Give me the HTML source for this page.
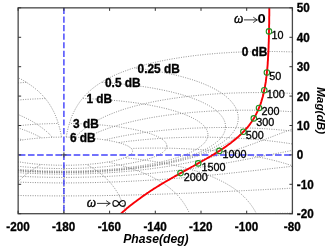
<!DOCTYPE html>
<html><head><meta charset="utf-8"><title>Nichols chart</title>
<style>html,body{margin:0;padding:0;background:#fff}body{width:328px;height:249px;overflow:hidden;position:relative;font-family:"Liberation Sans",sans-serif}</style>
</head><body>
<svg width="328" height="249" viewBox="0 0 328 249" style="position:absolute;left:0;top:0;will-change:transform;font-family:'Liberation Sans',sans-serif"><defs><clipPath id="c"><rect x="18.15" y="7.85" width="274.25" height="205.85"/></clipPath></defs><rect x="0" y="0" width="328" height="249" fill="#fff"/><g clip-path="url(#c)"><g fill="none" stroke="#808080" stroke-width="0.9" stroke-dasharray="1 1.4"><path d="M66.2 137.1L67.0 137.1L67.8 137.1L68.6 137.2L69.4 137.2L70.3 137.2L71.1 137.2L72.0 137.2L72.9 137.2L73.8 137.3L74.7 137.3L75.6 137.3L76.5 137.4L77.4 137.4L78.3 137.4L79.2 137.5L80.2 137.5L81.0 137.6L81.9 137.6L82.9 137.7L83.8 137.7L84.8 137.8L85.9 137.9L86.7 137.9L87.6 138.0L88.4 138.0L89.4 138.1L90.3 138.2L91.2 138.3L92.2 138.4L93.2 138.5L94.3 138.6L95.4 138.7L96.5 138.8L97.6 138.9L98.7 139.1L99.9 139.2L100.7 139.3L101.5 139.4L102.3 139.5L103.1 139.6L104.0 139.8L104.8 139.9L105.7 140.0L106.5 140.2L107.4 140.3L108.2 140.4L109.1 140.6L110.0 140.8L110.9 140.9L111.8 141.1L112.6 141.3L113.5 141.5L114.4 141.6L115.3 141.8L116.1 142.1L117.0 142.3L117.9 142.5L118.7 142.7L119.6 142.9L120.4 143.2L121.2 143.4L122.0 143.7L122.8 144.0L123.6 144.2L124.3 144.5L125.4 144.9L126.5 145.4L127.5 145.8L128.4 146.3L129.2 146.8L130.0 147.3L130.6 147.9L131.4 148.6L132.0 149.3L132.4 150.1L132.6 150.9L132.6 151.1" stroke-dashoffset="0.00"/><path d="M63.9 165.3L65.6 165.3L67.4 165.2L69.1 165.2L70.8 165.2L72.5 165.2L74.2 165.1L75.8 165.0L77.4 165.0L79.0 164.9L80.5 164.8L82.1 164.8L83.6 164.7L85.0 164.6L86.5 164.5L87.9 164.4L89.3 164.3L90.7 164.1L92.1 164.0L93.4 163.9L94.7 163.8L96.0 163.6L97.2 163.5L98.5 163.4L99.7 163.2L100.9 163.1L102.0 162.9L103.2 162.7L104.3 162.6L105.3 162.4L106.4 162.2L107.4 162.1L108.5 161.9L109.4 161.7L110.4 161.5L111.4 161.4L112.3 161.2L113.2 161.0L114.1 160.8L114.9 160.6L115.7 160.4L116.5 160.2L117.3 160.0L118.8 159.6L120.3 159.2L121.6 158.8L122.8 158.4L124.0 158.0L125.1 157.6L126.1 157.2L127.0 156.7L127.9 156.3L128.6 155.9L129.3 155.5L130.3 154.8L131.0 154.2L131.6 153.6L132.2 152.7L132.5 151.9L132.6 151.1" stroke-dashoffset="0.11"/><path d="M3.4 144.5L4.1 144.2L4.9 144.0L5.7 143.7L6.5 143.4L7.3 143.2L8.1 142.9L9.0 142.7L9.8 142.5L10.7 142.3L11.6 142.1L12.4 141.8L13.3 141.6L14.2 141.5L15.1 141.3L16.0 141.1L16.8 140.9L17.7 140.8L18.6 140.6L19.5 140.4L20.3 140.3L21.2 140.2L22.1 140.0L22.9 139.9L23.7 139.8L24.6 139.6L25.4 139.5L26.2 139.4L27.0 139.3L27.8 139.2L29.0 139.1L30.1 138.9L31.3 138.8L32.4 138.7L33.4 138.6L34.5 138.5L35.5 138.4L36.5 138.3L37.4 138.2L38.4 138.1L39.3 138.0L40.1 138.0L41.0 137.9L41.8 137.9L42.9 137.8L43.9 137.7L44.9 137.7L45.8 137.6L46.7 137.6L47.5 137.5L48.3 137.5L49.3 137.4L50.2 137.4L51.0 137.4L52.0 137.3L52.8 137.3L53.7 137.3L54.5 137.2L55.3 137.2L56.2 137.2L57.0 137.2L57.9 137.2L58.7 137.2L59.6 137.1L60.4 137.1L61.2 137.1L61.6 137.1" stroke-dashoffset="2.02"/><path d="M3.2 157.8L4.3 158.2L5.5 158.6L6.8 159.0L8.2 159.4L9.6 159.8L11.2 160.2L12.0 160.4L12.8 160.6L13.7 160.8L14.5 161.0L15.4 161.2L16.4 161.4L17.3 161.5L18.3 161.7L19.3 161.9L20.3 162.1L21.3 162.2L22.4 162.4L23.5 162.6L24.6 162.7L25.7 162.9L26.9 163.1L28.0 163.2L29.2 163.4L30.5 163.5L31.7 163.6L33.0 163.8L34.3 163.9L35.6 164.0L37.0 164.1L38.4 164.3L39.8 164.4L41.2 164.5L42.7 164.6L44.2 164.7L45.7 164.8L47.2 164.8L48.7 164.9L50.3 165.0L51.9 165.0L53.6 165.1L55.2 165.2L56.9 165.2L58.6 165.2L60.3 165.2L62.1 165.3L63.9 165.3" stroke-dashoffset="1.81"/><path d="M69.4 123.5L70.2 123.5L71.1 123.5L72.0 123.5L72.9 123.5L73.8 123.6L74.7 123.6L75.6 123.6L76.5 123.6L77.4 123.6L78.3 123.7L79.2 123.7L80.0 123.7L80.9 123.8L81.8 123.8L82.7 123.8L83.7 123.9L84.7 123.9L85.5 123.9L86.4 124.0L87.2 124.0L88.1 124.1L89.0 124.1L90.0 124.2L91.0 124.2L92.0 124.3L93.1 124.4L94.2 124.4L95.3 124.5L96.5 124.6L97.7 124.7L98.5 124.7L99.3 124.8L100.2 124.9L101.1 125.0L101.9 125.0L102.8 125.1L103.8 125.2L104.7 125.3L105.7 125.4L106.6 125.5L107.6 125.6L108.6 125.7L109.6 125.8L110.7 125.9L111.7 126.0L112.8 126.1L113.9 126.3L114.9 126.4L116.1 126.5L117.2 126.7L118.3 126.8L119.4 127.0L120.6 127.1L121.8 127.3L122.9 127.5L124.1 127.7L125.3 127.9L126.5 128.1L127.7 128.3L128.9 128.5L130.2 128.7L131.4 128.9L132.6 129.2L133.8 129.4L135.0 129.7L136.2 129.9L137.5 130.2L138.7 130.5L139.9 130.7L141.1 131.0L142.3 131.3L143.4 131.6L144.6 132.0L145.8 132.3L146.9 132.6L148.0 133.0L149.1 133.3L150.2 133.7L151.3 134.0L152.3 134.4L153.3 134.8L154.3 135.2L155.3 135.6L156.2 136.0L157.1 136.4L158.0 136.8L158.8 137.2L159.6 137.7L160.4 138.1L161.1 138.5L161.8 139.0L162.8 139.7L163.7 140.4L164.4 141.1L165.1 141.8L165.7 142.6L166.1 143.3L166.5 144.1L166.7 144.9L166.9 145.9" stroke-dashoffset="0.84"/><path d="M63.9 168.6L66.1 168.6L68.2 168.5L70.4 168.5L72.5 168.5L74.6 168.4L76.7 168.4L78.7 168.3L80.7 168.3L82.7 168.2L84.6 168.1L86.5 168.0L88.4 167.9L90.3 167.8L92.1 167.7L93.9 167.6L95.7 167.5L97.5 167.3L99.2 167.2L100.9 167.1L102.6 166.9L104.2 166.8L105.9 166.6L107.5 166.5L109.0 166.3L110.6 166.1L112.1 166.0L113.6 165.8L115.1 165.6L116.5 165.4L117.9 165.2L119.3 165.0L120.7 164.8L122.0 164.6L123.4 164.4L124.7 164.2L126.0 164.0L127.2 163.8L128.4 163.6L129.7 163.4L130.8 163.2L132.0 163.0L133.1 162.7L134.3 162.5L135.4 162.3L136.4 162.0L137.5 161.8L138.5 161.6L139.5 161.3L140.5 161.1L141.5 160.9L142.5 160.6L143.4 160.4L144.3 160.1L145.2 159.9L146.1 159.6L146.9 159.4L147.7 159.1L148.5 158.9L149.3 158.6L150.1 158.4L151.6 157.9L153.0 157.4L154.3 156.8L155.6 156.3L156.8 155.8L157.9 155.3L158.9 154.7L159.9 154.2L160.8 153.6L161.7 153.1L162.4 152.6L163.1 152.0L163.8 151.5L164.6 150.7L165.3 149.9L165.9 149.1L166.3 148.3L166.6 147.5L166.8 146.7L166.9 145.9" stroke-dashoffset="0.11"/><path d="M3.6 127.7L4.8 127.5L5.9 127.3L7.1 127.1L8.3 127.0L9.4 126.8L10.5 126.7L11.7 126.5L12.8 126.4L13.9 126.3L14.9 126.1L16.0 126.0L17.1 125.9L18.1 125.8L19.1 125.7L20.1 125.6L21.1 125.5L22.1 125.4L23.0 125.3L24.0 125.2L24.9 125.1L25.8 125.0L26.7 125.0L27.5 124.9L28.4 124.8L29.2 124.7L30.0 124.7L30.9 124.6L32.0 124.5L33.2 124.5L34.3 124.4L35.3 124.3L36.4 124.3L37.4 124.2L38.4 124.1L39.3 124.1L40.2 124.0L41.1 124.0L41.9 124.0L42.7 123.9L43.8 123.9L44.8 123.8L45.7 123.8L46.6 123.8L47.5 123.7L48.3 123.7L49.3 123.7L50.2 123.6L51.0 123.6L51.8 123.6L52.7 123.6L53.5 123.6L54.4 123.5L55.3 123.5L56.1 123.5L57.0 123.5L57.8 123.5L58.3 123.5" stroke-dashoffset="2.24"/><path d="M4.3 164.4L5.7 164.6L7.0 164.8L8.4 165.0L9.8 165.2L11.2 165.4L12.7 165.6L14.1 165.8L15.6 166.0L17.1 166.1L18.7 166.3L20.3 166.5L21.9 166.6L23.5 166.8L25.1 166.9L26.8 167.1L28.5 167.2L30.2 167.3L32.0 167.5L33.8 167.6L35.6 167.7L37.4 167.8L39.3 167.9L41.2 168.0L43.1 168.1L45.0 168.2L47.0 168.3L49.0 168.3L51.1 168.4L53.1 168.4L55.2 168.5L57.3 168.5L59.5 168.5L61.7 168.6L63.9 168.6" stroke-dashoffset="0.60"/><path d="M82.4 98.5L83.4 98.5L84.4 98.6L85.2 98.6L86.1 98.6L86.9 98.7L87.8 98.7L88.8 98.7L89.7 98.8L90.7 98.8L91.8 98.9L92.8 98.9L93.9 99.0L95.1 99.0L96.3 99.1L97.1 99.1L97.9 99.2L98.7 99.2L99.6 99.3L100.5 99.4L101.4 99.4L102.3 99.5L103.3 99.5L104.2 99.6L105.2 99.7L106.2 99.8L107.2 99.8L108.3 99.9L109.3 100.0L110.4 100.1L111.5 100.2L112.7 100.3L113.8 100.4L115.0 100.5L116.1 100.6L117.3 100.7L118.6 100.8L119.8 100.9L121.1 101.1L122.3 101.2L123.6 101.4L125.0 101.5L126.3 101.7L127.6 101.8L129.0 102.0L130.4 102.2L131.8 102.3L133.2 102.5L134.6 102.7L136.1 102.9L137.5 103.1L139.0 103.3L140.5 103.6L141.9 103.8L143.4 104.0L144.9 104.3L146.4 104.5L148.0 104.8L149.5 105.1L151.0 105.4L152.5 105.7L154.0 106.0L155.6 106.3L157.1 106.6L158.6 106.9L160.1 107.2L161.6 107.6L163.1 107.9L164.6 108.3L166.1 108.6L167.5 109.0L169.0 109.4L170.5 109.8L171.9 110.2L173.3 110.6L174.7 111.0L176.1 111.4L177.4 111.9L178.8 112.3L180.1 112.8L181.4 113.2L182.7 113.7L183.9 114.1L185.1 114.6L186.3 115.1L187.5 115.6L188.7 116.1L189.8 116.6L190.9 117.1L191.9 117.6L192.9 118.1L193.9 118.7L194.9 119.2L195.8 119.7L196.7 120.3L197.6 120.8L198.5 121.4L199.3 121.9L200.0 122.5L200.8 123.0L201.5 123.6L202.1 124.2L202.8 124.8L203.4 125.3L203.9 125.9L204.7 126.8L205.4 127.7L206.0 128.6L206.5 129.5L207.0 130.4L207.3 131.3L207.6 132.2L207.8 133.1L207.9 134.0L207.9 134.6" stroke-dashoffset="1.89"/><path d="M63.9 171.2L66.4 171.2L68.8 171.1L71.3 171.1L73.7 171.1L76.1 171.0L78.4 171.0L80.7 170.9L83.0 170.9L85.3 170.8L87.5 170.7L89.7 170.6L91.9 170.5L94.0 170.4L96.1 170.3L98.2 170.2L100.2 170.0L102.3 169.9L104.3 169.8L106.2 169.6L108.2 169.5L110.1 169.3L112.0 169.2L113.8 169.0L115.7 168.8L117.5 168.7L119.3 168.5L121.0 168.3L122.8 168.1L124.5 167.9L126.2 167.7L127.8 167.5L129.5 167.3L131.1 167.1L132.7 166.9L134.2 166.7L135.8 166.5L137.3 166.3L138.8 166.1L140.3 165.8L141.8 165.6L143.2 165.4L144.6 165.1L146.0 164.9L147.4 164.7L148.7 164.4L150.1 164.2L151.4 163.9L152.7 163.7L154.0 163.4L155.2 163.2L156.5 162.9L157.7 162.7L158.9 162.4L160.1 162.2L161.2 161.9L162.4 161.6L163.5 161.4L164.6 161.1L165.7 160.8L166.8 160.6L167.8 160.3L168.9 160.0L169.9 159.7L170.9 159.5L171.9 159.2L172.8 158.9L173.8 158.6L174.7 158.3L175.7 158.1L176.6 157.8L177.5 157.5L178.3 157.2L179.2 156.9L180.0 156.6L180.9 156.3L181.7 156.1L182.5 155.8L183.3 155.5L184.1 155.2L184.8 154.9L186.3 154.3L187.7 153.7L189.1 153.1L190.4 152.5L191.6 151.9L192.8 151.3L194.0 150.7L195.1 150.1L196.1 149.5L197.1 148.9L198.1 148.3L199.0 147.6L199.8 147.0L200.7 146.4L201.4 145.8L202.1 145.2L202.8 144.6L203.5 143.9L204.0 143.3L204.6 142.7L205.3 141.8L206.0 140.8L206.5 139.9L207.0 139.0L207.3 138.0L207.6 137.1L207.8 136.2L207.9 135.3L207.9 134.6" stroke-dashoffset="0.11"/><path d="M3.4 101.4L4.7 101.3L6.0 101.1L7.3 101.0L8.5 100.9L9.8 100.8L11.0 100.6L12.2 100.5L13.3 100.4L14.5 100.3L15.6 100.2L16.7 100.1L17.8 100.0L18.9 100.0L20.0 99.9L21.0 99.8L22.0 99.7L23.0 99.6L24.0 99.6L24.9 99.5L25.9 99.4L26.8 99.4L27.7 99.3L28.5 99.3L29.4 99.2L30.2 99.2L31.1 99.1L31.9 99.1L33.0 99.0L34.2 99.0L35.3 98.9L36.3 98.9L37.3 98.8L38.3 98.8L39.3 98.7L40.2 98.7L41.1 98.7L41.9 98.6L42.7 98.6L43.8 98.6L44.8 98.5L45.3 98.5" stroke-dashoffset="2.07"/><path d="M3.2 167.9L5.0 168.1L6.7 168.3L8.5 168.5L10.2 168.7L12.1 168.8L13.9 169.0L15.7 169.2L17.6 169.3L19.6 169.5L21.5 169.6L23.5 169.8L25.5 169.9L27.5 170.0L29.5 170.2L31.6 170.3L33.7 170.4L35.9 170.5L38.0 170.6L40.2 170.7L42.4 170.8L44.7 170.9L47.0 170.9L49.3 171.0L51.6 171.0L54.0 171.1L56.4 171.1L58.9 171.1L61.4 171.2L63.9 171.2" stroke-dashoffset="1.90"/><path d="M101.3 82.4L102.2 82.4L103.1 82.5L104.1 82.5L105.1 82.6L106.1 82.7L107.1 82.7L108.2 82.8L109.3 82.9L110.3 83.0L111.5 83.1L112.6 83.2L113.7 83.3L114.9 83.4L116.1 83.5L117.3 83.6L118.6 83.7L119.8 83.8L121.1 83.9L122.4 84.1L123.7 84.2L125.1 84.3L126.4 84.5L127.8 84.6L129.2 84.8L130.6 84.9L132.1 85.1L133.5 85.3L135.0 85.5L136.5 85.7L138.0 85.9L139.5 86.1L141.0 86.3L142.5 86.5L144.1 86.7L145.6 87.0L147.2 87.2L148.8 87.5L149.6 87.6L150.4 87.7L151.2 87.9L152.0 88.0L152.8 88.1L153.6 88.3L154.4 88.4L155.2 88.6L156.0 88.7L156.8 88.9L157.6 89.0L158.4 89.2L159.2 89.3L160.0 89.5L160.8 89.6L161.6 89.8L162.4 90.0L163.2 90.1L164.0 90.3L164.8 90.5L165.6 90.6L166.4 90.8L167.2 91.0L168.0 91.2L168.8 91.4L169.6 91.5L170.4 91.7L171.2 91.9L172.0 92.1L172.8 92.3L173.5 92.5L174.3 92.7L175.1 92.9L175.9 93.1L177.4 93.5L178.9 93.9L180.5 94.3L182.0 94.7L183.4 95.2L184.9 95.6L186.3 96.1L187.8 96.5L189.2 97.0L190.6 97.5L191.9 98.0L193.3 98.5L194.6 99.0L195.9 99.5L197.1 100.0L198.4 100.5L199.6 101.0L200.8 101.5L202.0 102.1L203.1 102.6L204.2 103.1L205.3 103.7L206.4 104.2L207.4 104.8L208.4 105.3L209.4 105.9L210.3 106.5L211.3 107.1L212.2 107.6L213.0 108.2L213.9 108.8L214.7 109.4L215.4 110.0L216.2 110.6L216.9 111.2L217.6 111.8L218.2 112.4L218.9 113.0L219.5 113.6L220.1 114.2L220.6 114.8L221.1 115.4L221.8 116.4L222.5 117.3L223.1 118.2L223.6 119.2L224.1 120.1L224.5 121.1L224.8 122.0L225.1 123.0L225.3 123.9L225.4 124.9L225.5 125.8L225.5 126.5" stroke-dashoffset="1.52"/><path d="M63.9 171.9L66.4 171.9L69.0 171.8L71.5 171.8L74.0 171.8L76.4 171.7L78.9 171.7L81.3 171.6L83.6 171.6L85.9 171.5L88.2 171.4L90.5 171.3L92.7 171.2L94.9 171.1L97.1 171.0L99.3 170.9L101.4 170.7L103.5 170.6L105.5 170.5L107.6 170.3L109.6 170.2L111.6 170.0L113.5 169.9L115.4 169.7L117.4 169.5L119.2 169.4L121.1 169.2L122.9 169.0L124.7 168.8L126.5 168.6L128.2 168.4L130.0 168.2L131.7 168.0L133.4 167.8L135.0 167.6L136.7 167.4L138.3 167.2L139.9 167.0L141.5 166.7L143.0 166.5L144.5 166.3L146.1 166.1L147.5 165.8L149.0 165.6L150.5 165.3L151.9 165.1L153.3 164.9L154.7 164.6L156.0 164.4L157.4 164.1L158.7 163.9L160.0 163.6L161.3 163.4L162.6 163.1L163.9 162.8L165.1 162.6L166.3 162.3L167.5 162.0L168.7 161.8L169.9 161.5L171.0 161.2L172.2 161.0L173.3 160.7L174.4 160.4L175.5 160.1L176.6 159.8L177.6 159.6L178.7 159.3L179.7 159.0L180.7 158.7L181.7 158.4L182.7 158.1L183.6 157.9L184.6 157.6L185.5 157.3L186.4 157.0L187.4 156.7L188.3 156.4L189.1 156.1L190.0 155.8L190.9 155.5L191.7 155.2L192.5 154.9L193.3 154.6L194.1 154.3L194.9 154.0L195.7 153.7L196.5 153.4L197.2 153.1L198.7 152.5L200.1 151.9L201.5 151.3L202.8 150.7L204.1 150.0L205.3 149.4L206.5 148.8L207.7 148.2L208.8 147.6L209.8 146.9L210.9 146.3L211.8 145.7L212.8 145.0L213.7 144.4L214.6 143.8L215.4 143.1L216.2 142.5L217.0 141.9L217.7 141.2L218.4 140.6L219.0 139.9L219.7 139.3L220.3 138.7L220.8 138.0L221.3 137.4L221.8 136.7L222.5 135.8L223.1 134.8L223.7 133.8L224.1 132.9L224.5 131.9L224.9 131.0L225.1 130.0L225.3 129.0L225.5 128.1L225.5 127.1L225.5 126.5" stroke-dashoffset="0.11"/><path d="M3.3 84.3L4.6 84.1L6.0 84.0L7.2 83.9L8.5 83.7L9.8 83.6L11.0 83.5L12.2 83.4L13.4 83.3L14.5 83.2L15.7 83.1L16.8 83.0L17.9 82.9L19.0 82.9L20.1 82.8L21.1 82.7L22.1 82.6L23.1 82.6L24.1 82.5L25.0 82.4L26.0 82.4L26.4 82.4" stroke-dashoffset="1.96"/><path d="M4.8 169.0L6.6 169.2L8.5 169.4L10.4 169.5L12.3 169.7L14.2 169.9L16.2 170.0L18.1 170.2L20.1 170.3L22.2 170.5L24.2 170.6L26.3 170.7L28.5 170.9L30.6 171.0L32.8 171.1L35.0 171.2L37.2 171.3L39.5 171.4L41.8 171.5L44.1 171.6L46.5 171.6L48.9 171.7L51.3 171.7L53.7 171.8L56.2 171.8L58.7 171.8L61.3 171.9L63.9 171.9" stroke-dashoffset="1.06"/><path d="M134.1 67.9L135.6 68.1L137.1 68.3L138.6 68.5L140.2 68.7L141.7 68.9L143.3 69.1L144.9 69.3L145.7 69.4L146.5 69.6L147.3 69.7L148.1 69.8L148.9 69.9L149.7 70.0L150.5 70.2L151.3 70.3L152.1 70.4L152.9 70.6L153.7 70.7L154.6 70.8L155.4 71.0L156.2 71.1L157.0 71.3L157.8 71.4L158.7 71.6L159.5 71.7L160.3 71.9L161.2 72.0L162.0 72.2L162.8 72.3L163.6 72.5L164.5 72.7L165.3 72.8L166.1 73.0L166.9 73.2L167.8 73.4L168.6 73.5L169.4 73.7L170.2 73.9L171.1 74.1L171.9 74.2L172.7 74.4L173.5 74.6L174.3 74.8L175.2 75.0L176.0 75.2L176.8 75.4L177.6 75.6L178.4 75.8L179.2 76.0L180.0 76.2L180.8 76.4L181.6 76.6L182.4 76.8L183.1 77.0L183.9 77.3L184.7 77.5L185.5 77.7L186.3 77.9L187.8 78.4L189.3 78.8L190.8 79.3L192.3 79.7L193.7 80.2L195.2 80.7L196.6 81.2L198.0 81.7L199.4 82.2L200.7 82.7L202.0 83.2L203.4 83.7L204.6 84.3L205.9 84.8L207.1 85.3L208.4 85.9L209.5 86.4L210.7 87.0L211.8 87.5L213.0 88.1L214.1 88.7L215.1 89.2L216.2 89.8L217.2 90.4L218.2 91.0L219.1 91.6L220.1 92.1L221.0 92.7L221.9 93.3L222.7 93.9L223.6 94.5L224.4 95.1L225.2 95.8L225.9 96.4L226.7 97.0L227.4 97.6L228.1 98.2L228.7 98.8L229.4 99.5L230.0 100.1L230.6 100.7L231.1 101.3L231.7 102.0L232.2 102.6L232.7 103.2L233.4 104.2L234.1 105.1L234.7 106.1L235.3 107.1L235.8 108.0L236.2 109.0L236.7 109.9L237.0 110.9L237.3 111.9L237.6 112.9L237.8 113.8L238.0 114.8L238.2 115.8L238.2 116.8L238.3 117.7L238.3 118.1" stroke-dashoffset="0.75"/><path d="M63.9 172.2L66.5 172.2L69.1 172.2L71.6 172.2L74.1 172.1L76.6 172.1L79.1 172.0L81.5 172.0L83.9 171.9L86.3 171.8L88.6 171.8L90.9 171.7L93.2 171.6L95.4 171.5L97.6 171.3L99.8 171.2L102.0 171.1L104.1 171.0L106.2 170.8L108.2 170.7L110.3 170.5L112.3 170.4L114.3 170.2L116.3 170.1L118.2 169.9L120.1 169.7L122.0 169.5L123.9 169.4L125.7 169.2L127.5 169.0L129.3 168.8L131.1 168.6L132.8 168.4L134.5 168.2L136.2 168.0L137.9 167.8L139.5 167.5L141.2 167.3L142.8 167.1L144.4 166.9L145.9 166.6L147.5 166.4L149.0 166.2L150.5 165.9L152.0 165.7L153.5 165.5L154.9 165.2L156.3 165.0L157.7 164.7L159.1 164.5L160.5 164.2L161.8 164.0L163.2 163.7L164.5 163.4L165.8 163.2L167.1 162.9L168.3 162.7L169.6 162.4L170.8 162.1L172.0 161.8L173.2 161.6L174.4 161.3L175.5 161.0L176.7 160.7L177.8 160.5L178.9 160.2L180.0 159.9L181.1 159.6L182.2 159.3L183.2 159.1L184.3 158.8L185.3 158.5L186.3 158.2L187.3 157.9L188.3 157.6L189.2 157.3L190.2 157.0L191.1 156.7L192.1 156.4L193.0 156.1L193.9 155.8L194.8 155.6L195.7 155.3L196.5 155.0L197.4 154.7L198.2 154.4L199.0 154.0L199.9 153.7L200.7 153.4L201.5 153.1L202.2 152.8L203.0 152.5L203.8 152.2L204.5 151.9L206.0 151.3L207.4 150.7L208.8 150.1L210.1 149.4L211.4 148.8L212.7 148.2L213.9 147.6L215.0 146.9L216.2 146.3L217.3 145.7L218.4 145.0L219.4 144.4L220.4 143.7L221.4 143.1L222.3 142.5L223.2 141.8L224.1 141.2L224.9 140.5L225.7 139.9L226.5 139.2L227.3 138.6L228.0 138.0L228.7 137.3L229.4 136.7L230.0 136.0L230.6 135.4L231.2 134.7L231.8 134.1L232.3 133.4L232.8 132.8L233.3 132.1L234.0 131.1L234.6 130.1L235.2 129.2L235.7 128.2L236.2 127.2L236.6 126.2L237.0 125.2L237.3 124.3L237.6 123.3L237.8 122.3L238.0 121.3L238.2 120.3L238.2 119.4L238.3 118.4L238.3 118.1" stroke-dashoffset="0.11"/><path d="M3.9 169.4L5.7 169.5L7.6 169.7L9.5 169.9L11.5 170.1L13.4 170.2L15.4 170.4L17.4 170.5L19.5 170.7L21.5 170.8L23.6 171.0L25.8 171.1L27.9 171.2L30.1 171.3L32.3 171.5L34.6 171.6L36.8 171.7L39.1 171.8L41.5 171.8L43.8 171.9L46.2 172.0L48.6 172.0L51.1 172.1L53.6 172.1L56.1 172.2L58.6 172.2L61.2 172.2L63.9 172.2" stroke-dashoffset="0.11"/><path d="M63.9 172.6L66.5 172.6L69.1 172.6L71.7 172.5L74.3 172.5L76.8 172.5L79.3 172.4L81.8 172.4L84.2 172.3L86.6 172.2L89.0 172.1L91.3 172.0L93.6 171.9L95.9 171.8L98.1 171.7L100.3 171.6L102.5 171.5L104.7 171.3L106.8 171.2L108.9 171.0L111.0 170.9L113.0 170.7L115.1 170.6L117.1 170.4L119.0 170.3L121.0 170.1L122.9 169.9L124.8 169.7L126.7 169.5L128.5 169.3L130.3 169.1L132.1 168.9L133.9 168.7L135.7 168.5L137.4 168.3L139.1 168.1L140.8 167.9L142.5 167.7L144.1 167.5L145.7 167.2L147.3 167.0L148.9 166.8L150.5 166.5L152.0 166.3L153.5 166.1L155.0 165.8L156.5 165.6L158.0 165.3L159.4 165.1L160.8 164.8L162.2 164.6L163.6 164.3L165.0 164.1L166.4 163.8L167.7 163.5L169.0 163.3L170.3 163.0L171.6 162.7L172.9 162.5L174.1 162.2L175.3 161.9L176.6 161.7L177.8 161.4L178.9 161.1L180.1 160.8L181.3 160.6L182.4 160.3L183.5 160.0L184.7 159.7L185.8 159.4L186.8 159.1L187.9 158.8L189.0 158.6L190.0 158.3L191.0 158.0L192.0 157.7L193.1 157.4L194.0 157.1L195.0 156.8L196.0 156.5L196.9 156.2L197.9 155.9L198.8 155.6L199.7 155.3L200.6 155.0L201.5 154.7L202.4 154.4L203.3 154.1L204.1 153.8L205.0 153.5L205.8 153.2L206.6 152.9L207.4 152.6L208.2 152.3L209.0 152.0L209.8 151.7L210.6 151.3L211.3 151.0L212.1 150.7L212.8 150.4L214.3 149.8L215.7 149.2L217.1 148.5L218.4 147.9L219.8 147.3L221.0 146.6L222.3 146.0L223.5 145.4L224.7 144.7L225.8 144.1L227.0 143.4L228.1 142.8L229.1 142.2L230.2 141.5L231.2 140.9L232.2 140.2L233.1 139.6L234.1 138.9L235.0 138.3L235.9 137.6L236.7 137.0L237.6 136.3L238.4 135.7L239.2 135.0L240.0 134.4L240.7 133.7L241.5 133.1L242.2 132.4L242.9 131.8L243.6 131.1L244.2 130.4L244.9 129.8L245.5 129.1L246.1 128.5L246.7 127.8L247.3 127.2L247.9 126.5L248.5 125.8L249.0 125.2L249.5 124.5L250.0 123.9L250.5 123.2L251.0 122.5L251.5 121.9L252.0 121.2L252.4 120.6L253.1 119.6L253.7 118.6L254.3 117.6L254.9 116.6L255.5 115.6L256.0 114.6L256.5 113.6L257.0 112.6L257.5 111.6L258.0 110.6L258.4 109.6L258.8 108.6L259.2 107.6L259.6 106.6L260.0 105.6L260.4 104.7L260.7 103.7L261.1 102.7L261.4 101.7L261.7 100.7L262.0 99.7L262.3 98.7L262.6 97.7L262.8 96.7L263.1 95.7L263.3 94.7L263.6 93.7L263.8 92.7L264.0 91.7L264.2 90.7L264.4 89.7L264.6 88.7L264.8 87.7L265.0 86.7L265.2 85.7L265.3 84.7L265.5 83.7L265.7 82.7L265.8 81.7L266.0 80.7L266.1 79.7L266.2 78.7L266.4 77.7L266.5 76.7L266.6 75.7L266.7 74.8L266.8 73.8L266.9 72.8L267.0 71.8L267.1 70.8L267.2 69.8L267.3 68.8L267.4 67.8L267.5 66.8L267.5 65.8L267.6 64.8L267.7 63.8L267.8 62.8L267.8 61.8L267.9 60.8L268.0 59.8L268.0 58.8L268.1 57.8L268.1 56.8L268.2 55.8L268.2 54.8L268.3 53.8L268.3 52.8L268.4 51.8L268.4 51.5" stroke-dashoffset="0.11"/><path d="M4.8 169.9L6.7 170.1L8.7 170.3L10.6 170.4L12.6 170.6L14.7 170.7L16.7 170.9L18.8 171.0L20.9 171.2L23.0 171.3L25.2 171.5L27.4 171.6L29.6 171.7L31.8 171.8L34.1 171.9L36.4 172.0L38.8 172.1L41.1 172.2L43.5 172.3L45.9 172.4L48.4 172.4L50.9 172.5L53.4 172.5L56.0 172.5L58.6 172.6L61.2 172.6L63.9 172.6" stroke-dashoffset="1.06"/><path d="M63.9 174.1L66.7 174.1L69.4 174.1L72.2 174.1L74.9 174.0L77.6 174.0L80.2 173.9L82.8 173.9L85.4 173.8L87.9 173.7L90.4 173.6L92.9 173.5L95.3 173.4L97.8 173.3L100.1 173.2L102.5 173.1L104.8 173.0L107.1 172.8L109.4 172.7L111.6 172.6L113.8 172.4L116.0 172.3L118.2 172.1L120.3 171.9L122.4 171.8L124.5 171.6L126.6 171.4L128.6 171.2L130.6 171.1L132.6 170.9L134.5 170.7L136.5 170.5L138.4 170.3L140.3 170.1L142.1 169.9L144.0 169.6L145.8 169.4L147.6 169.2L149.4 169.0L151.2 168.8L152.9 168.5L154.6 168.3L156.3 168.1L158.0 167.8L159.7 167.6L161.3 167.4L162.9 167.1L164.6 166.9L166.1 166.6L167.7 166.4L169.3 166.1L170.8 165.9L172.3 165.6L173.8 165.4L175.3 165.1L176.8 164.8L178.3 164.6L179.7 164.3L181.1 164.0L182.5 163.8L183.9 163.5L185.3 163.2L186.7 163.0L188.0 162.7L189.4 162.4L190.7 162.1L192.0 161.9L193.3 161.6L194.6 161.3L195.8 161.0L197.1 160.7L198.4 160.4L199.6 160.2L200.8 159.9L202.0 159.6L203.2 159.3L204.4 159.0L205.6 158.7L206.8 158.4L207.9 158.1L209.1 157.8L210.2 157.5L211.3 157.2L212.4 156.9L213.5 156.6L214.6 156.3L215.7 156.1L216.8 155.8L217.9 155.5L218.9 155.2L220.0 154.9L221.0 154.5L222.0 154.2L223.1 153.9L224.1 153.6L225.1 153.3L226.1 153.0L227.1 152.7L228.1 152.4L229.0 152.1L230.0 151.8L231.0 151.5L231.9 151.2L232.9 150.9L233.8 150.6L234.8 150.3L235.7 150.0L236.6 149.7L237.6 149.4L238.5 149.0L239.4 148.7L240.3 148.4L241.2 148.1L242.1 147.8L243.0 147.5L243.9 147.2L244.7 146.9L245.6 146.6L246.5 146.3L247.4 145.9L248.2 145.6L249.1 145.3L249.9 145.0L250.8 144.7L251.6 144.4L252.5 144.1L253.3 143.8L254.2 143.5L255.0 143.2L255.8 142.8L256.7 142.5L257.5 142.2L258.3 141.9L259.1 141.6L260.0 141.3L260.8 141.0L261.6 140.7L262.4 140.4L263.2 140.1L264.0 139.7L264.8 139.4L265.6 139.1L266.4 138.8L267.3 138.5L268.1 138.2L268.9 137.9L269.7 137.6L270.5 137.3L271.3 137.0L272.1 136.7L272.9 136.4L273.7 136.1L274.5 135.7L275.3 135.4L276.1 135.1L276.9 134.8L277.7 134.5L278.5 134.2L279.3 133.9L280.1 133.6L280.9 133.3L281.7 133.0L282.5 132.7L283.3 132.4L284.1 132.1L284.9 131.8L285.7 131.5L286.5 131.2L287.3 130.9L288.1 130.6L288.9 130.3L289.7 130.0L290.6 129.7L291.4 129.4L292.2 129.2L293.0 128.9L293.8 128.6L294.6 128.3L295.5 128.0L296.3 127.7L297.1 127.4L298.0 127.1L298.8 126.8L299.6 126.6L300.5 126.3L301.3 126.0L302.1 125.7L303.0 125.4L303.8 125.1L304.7 124.9L305.5 124.6L306.4 124.3L307.2 124.0" stroke-dashoffset="0.11"/><path d="M3.2 171.6L5.3 171.8L7.4 171.9L9.5 172.1L11.7 172.3L13.9 172.4L16.1 172.6L18.3 172.7L20.6 172.8L22.9 173.0L25.2 173.1L27.6 173.2L30.0 173.3L32.4 173.4L34.8 173.5L37.3 173.6L39.8 173.7L42.3 173.8L44.9 173.9L47.5 173.9L50.2 174.0L52.8 174.0L55.5 174.1L58.3 174.1L61.0 174.1L63.9 174.1" stroke-dashoffset="1.87"/><path d="M63.9 177.4L67.0 177.4L70.0 177.4L73.1 177.3L76.1 177.3L79.0 177.3L82.0 177.2L84.9 177.1L87.7 177.1L90.5 177.0L93.3 176.9L96.1 176.8L98.8 176.7L101.5 176.6L104.1 176.5L106.7 176.4L109.3 176.3L111.9 176.2L114.4 176.0L116.9 175.9L119.4 175.7L121.9 175.6L124.3 175.4L126.7 175.3L129.1 175.1L131.4 174.9L133.7 174.8L136.0 174.6L138.3 174.4L140.5 174.2L142.8 174.1L145.0 173.9L147.1 173.7L149.3 173.5L151.4 173.3L153.6 173.1L155.7 172.9L157.7 172.6L159.8 172.4L161.8 172.2L163.8 172.0L165.8 171.8L167.8 171.6L169.8 171.3L171.7 171.1L173.6 170.9L175.5 170.6L177.4 170.4L179.3 170.2L181.1 169.9L183.0 169.7L184.8 169.4L186.6 169.2L188.4 169.0L190.2 168.7L192.0 168.5L193.7 168.2L195.5 168.0L197.2 167.7L198.9 167.5L200.6 167.2L202.3 166.9L203.9 166.7L205.6 166.4L207.2 166.2L208.9 165.9L210.5 165.7L212.1 165.4L213.7 165.1L215.3 164.9L216.9 164.6L218.5 164.3L220.0 164.1L221.6 163.8L223.1 163.5L224.7 163.3L226.2 163.0L227.7 162.7L229.2 162.5L230.7 162.2L232.2 161.9L233.7 161.7L235.2 161.4L236.6 161.1L238.1 160.9L239.5 160.6L241.0 160.3L242.4 160.1L243.9 159.8L245.3 159.5L246.7 159.2L248.1 159.0L249.5 158.7L250.9 158.4L252.3 158.2L253.7 157.9L255.1 157.6L256.5 157.4L257.9 157.1L259.2 156.8L260.6 156.6L262.0 156.3L263.3 156.0L264.7 155.8L266.0 155.5L267.4 155.3L268.7 155.0L270.0 154.7L271.4 154.5L272.7 154.2L274.0 153.9L275.3 153.7L276.7 153.4L278.0 153.2L279.3 152.9L280.6 152.7L281.9 152.4L283.2 152.2L284.5 151.9L285.8 151.7L287.1 151.4L288.4 151.2L289.7 150.9L291.0 150.7L292.3 150.4L293.6 150.2L294.8 149.9L296.1 149.7L297.4 149.5L298.7 149.2L300.0 149.0L301.2 148.7L302.5 148.5L303.8 148.3L305.0 148.1L306.3 147.8" stroke-dashoffset="0.11"/><path d="M3.4 175.4L5.9 175.6L8.3 175.7L10.8 175.9L13.3 176.0L15.8 176.2L18.4 176.3L21.0 176.4L23.6 176.5L26.3 176.6L28.9 176.7L31.7 176.8L34.4 176.9L37.2 177.0L40.0 177.1L42.9 177.1L45.8 177.2L48.7 177.3L51.6 177.3L54.6 177.3L57.7 177.4L60.7 177.4L63.9 177.4" stroke-dashoffset="2.08"/><path d="M63.9 182.9L67.4 182.9L70.9 182.9L74.4 182.9L77.8 182.8L81.1 182.8L84.5 182.7L87.8 182.7L91.0 182.6L94.2 182.6L97.4 182.5L100.5 182.4L103.6 182.3L106.7 182.2L109.7 182.1L112.7 182.0L115.7 181.9L118.7 181.8L121.6 181.7L124.4 181.5L127.3 181.4L130.1 181.3L132.9 181.1L135.7 181.0L138.4 180.8L141.1 180.7L143.8 180.5L146.5 180.4L149.1 180.2L151.7 180.1L154.3 179.9L156.8 179.7L159.4 179.5L161.9 179.4L164.4 179.2L166.9 179.0L169.3 178.8L171.8 178.6L174.2 178.5L176.6 178.3L178.9 178.1L181.3 177.9L183.6 177.7L185.9 177.5L188.2 177.3L190.5 177.1L192.8 176.9L195.0 176.7L197.2 176.5L199.5 176.3L201.7 176.1L203.8 175.9L206.0 175.7L208.2 175.4L210.3 175.2L212.4 175.0L214.5 174.8L216.6 174.6L218.7 174.4L220.8 174.2L222.8 174.0L224.9 173.8L226.9 173.5L228.9 173.3L230.9 173.1L232.9 172.9L234.9 172.7L236.8 172.5L238.8 172.3L240.7 172.1L242.7 171.8L244.6 171.6L246.5 171.4L248.4 171.2L250.3 171.0L252.2 170.8L254.0 170.6L255.9 170.4L257.7 170.2L259.6 170.0L261.4 169.8L263.2 169.5L265.0 169.3L266.8 169.1L268.6 168.9L270.4 168.7L272.2 168.5L274.0 168.3L275.7 168.1L277.5 167.9L279.2 167.7L280.9 167.6L282.6 167.4L284.4 167.2L286.1 167.0L287.7 166.8L289.4 166.6L291.1 166.4L292.8 166.2L294.4 166.0L296.1 165.9L297.7 165.7L299.4 165.5L301.0 165.3L302.6 165.2L304.2 165.0L305.8 164.8" stroke-dashoffset="0.11"/><path d="M3.3 181.5L6.2 181.7L9.1 181.8L12.0 181.9L15.0 182.0L18.0 182.1L21.0 182.2L24.1 182.3L27.2 182.4L30.3 182.5L33.5 182.6L36.7 182.6L40.0 182.7L43.3 182.7L46.6 182.8L50.0 182.8L53.4 182.9L56.8 182.9L60.3 182.9L63.9 182.9" stroke-dashoffset="1.93"/><path d="M63.9 195.9L68.1 195.9L72.3 195.9L76.5 195.9L80.5 195.8L84.6 195.8L88.6 195.8L92.5 195.7L96.4 195.7L100.3 195.7L104.1 195.6L107.9 195.5L111.6 195.5L115.3 195.4L118.9 195.3L122.5 195.3L126.1 195.2L129.6 195.1L133.1 195.0L136.6 194.9L140.0 194.8L143.4 194.7L146.8 194.6L150.1 194.5L153.4 194.4L156.6 194.3L159.8 194.2L163.0 194.1L166.2 194.0L169.3 193.9L172.4 193.8L175.5 193.7L178.6 193.6L181.6 193.4L184.6 193.3L187.5 193.2L190.5 193.1L193.4 193.0L196.3 192.8L199.1 192.7L202.0 192.6L204.8 192.5L207.6 192.4L210.3 192.2L213.1 192.1L215.8 192.0L218.5 191.9L221.1 191.7L223.8 191.6L226.4 191.5L229.0 191.4L231.6 191.2L234.1 191.1L236.7 191.0L239.2 190.9L241.7 190.7L244.1 190.6L246.6 190.5L249.0 190.4L251.4 190.3L253.8 190.1L256.2 190.0L258.5 189.9L260.9 189.8L263.2 189.7L265.5 189.5L267.7 189.4L270.0 189.3L272.2 189.2L274.4 189.1L276.6 189.0L278.8 188.9L280.9 188.8L283.1 188.7L285.2 188.6L287.3 188.4L289.4 188.3L291.4 188.2L293.5 188.1L295.5 188.0L297.5 187.9L299.5 187.8L301.5 187.7L303.4 187.6L305.4 187.6L307.3 187.5" stroke-dashoffset="0.11"/><path d="M5.2 195.3L8.8 195.3L12.4 195.4L16.1 195.5L19.8 195.5L23.6 195.6L27.4 195.7L31.3 195.7L35.2 195.7L39.1 195.8L43.1 195.8L47.2 195.8L51.3 195.9L55.4 195.9L59.6 195.9L63.9 195.9" stroke-dashoffset="1.43"/><path d="M63.9 216.1L68.7 216.1L73.5 216.1L78.2 216.1L82.8 216.1L87.4 216.1L92.0 216.1L96.5 216.1L100.9 216.0L105.3 216.0L109.6 216.0L113.9 216.0L118.1 215.9L122.2 215.9L126.4 215.8L130.4 215.8L134.5 215.8L138.4 215.7L142.4 215.7L146.3 215.6L150.1 215.6L153.9 215.6L157.7 215.5L161.4 215.5L165.1 215.4L168.7 215.4L172.3 215.3L175.9 215.3L179.4 215.2L182.8 215.1L186.3 215.1L189.7 215.0L193.1 215.0L196.4 214.9L199.7 214.9L202.9 214.8L206.1 214.8L209.3 214.7L212.5 214.7L215.6 214.6L218.7 214.5L221.7 214.5L224.7 214.4L227.7 214.4L230.7 214.3L233.6 214.3L236.5 214.2L239.3 214.2L242.1 214.1L244.9 214.1L247.7 214.0L250.4 213.9L253.1 213.9L255.8 213.8L258.5 213.8L261.1 213.7L263.7 213.7L266.2 213.6L268.7 213.6L271.2 213.5L273.7 213.5L276.2 213.4L278.6 213.4L281.0 213.3L283.3 213.3L285.7 213.3L288.0 213.2L290.3 213.2L292.5 213.1L294.8 213.1L297.0 213.0L299.2 213.0L301.3 213.0L303.5 212.9L305.6 212.9" stroke-dashoffset="0.11"/><path d="M5.5 215.9L9.6 215.9L13.9 216.0L18.1 216.0L22.5 216.0L26.8 216.0L31.3 216.1L35.7 216.1L40.3 216.1L44.9 216.1L49.5 216.1L54.2 216.1L59.0 216.1L63.9 216.1" stroke-dashoffset="1.72"/><path d="M66.2 136.7L66.5 135.2L66.8 133.8L67.1 132.5L67.3 131.3L67.6 130.1L67.9 128.9L68.2 127.9L68.4 126.8L68.7 125.8L69.0 124.9L69.3 123.9L69.5 123.0L69.8 122.2L70.1 121.3L70.4 120.5L70.6 119.7L70.9 119.0L71.3 117.9L71.7 116.8L72.1 115.8L72.5 114.8L73.0 113.9L73.4 113.0L73.8 112.1L74.2 111.3L74.6 110.5L75.0 109.7L75.4 108.9L75.8 108.2L76.3 107.4L76.7 106.7L77.2 105.8L77.8 104.9L78.3 104.1L78.9 103.3L79.4 102.5L80.0 101.7L80.5 101.0L81.1 100.2L81.6 99.5L82.2 98.9L82.7 98.2L83.2 97.5L83.8 96.9L84.3 96.3L84.9 95.7L85.4 95.1L86.1 94.4L86.8 93.7L87.5 93.0L88.2 92.4L88.9 91.7L89.6 91.1L90.2 90.5L90.9 89.9L91.6 89.3L92.3 88.7L93.0 88.2L93.7 87.6L94.4 87.1L95.0 86.6L95.7 86.1L96.4 85.6L97.1 85.1L97.8 84.6L98.5 84.2L99.2 83.7L99.8 83.3L100.5 82.8L101.2 82.4L101.9 82.0L102.6 81.6L103.4 81.1L104.2 80.6L105.1 80.1L105.9 79.6L106.7 79.2L107.5 78.8L108.3 78.3L109.2 77.9L110.0 77.5L110.8 77.1L111.6 76.7L112.5 76.3L113.3 75.9L114.1 75.5L114.9 75.1L115.8 74.8L116.6 74.4L117.4 74.0L118.2 73.7L119.0 73.3L119.9 73.0L120.7 72.7L121.5 72.3L122.3 72.0L123.2 71.7L124.0 71.4L124.8 71.1L125.6 70.8L126.5 70.5L127.3 70.2L128.1 69.9L128.9 69.6L129.7 69.3L130.6 69.0L131.4 68.8L132.2 68.5L133.0 68.2L133.9 68.0L134.7 67.7L135.5 67.5L136.3 67.2L137.2 67.0L138.0 66.7L138.8 66.5L139.6 66.2L140.4 66.0L141.3 65.8L142.1 65.5L142.9 65.3L143.7 65.1L144.6 64.9L145.4 64.6L146.2 64.4L147.0 64.2L147.9 64.0L148.7 63.8L149.5 63.6L150.3 63.4L151.1 63.2L152.0 63.0L152.8 62.8L153.6 62.6L154.4 62.4L155.3 62.3L156.1 62.1L156.9 61.9L157.7 61.7L158.6 61.5L159.4 61.4L160.2 61.2L161.0 61.0L161.8 60.8L162.7 60.7L163.5 60.5L164.3 60.4L165.1 60.2L166.0 60.0L166.8 59.9L167.6 59.7L168.4 59.6L169.3 59.4L170.1 59.3L170.9 59.1L171.7 59.0L172.5 58.8L173.4 58.7L174.2 58.6L175.0 58.4L175.8 58.3L176.7 58.2L177.5 58.0L178.3 57.9L179.1 57.8L180.0 57.6L180.8 57.5L181.6 57.4L182.4 57.3L183.2 57.1L184.1 57.0L184.9 56.9L185.7 56.8L186.5 56.7L187.4 56.6L188.2 56.5L189.0 56.3L189.8 56.2L190.7 56.1L191.5 56.0L192.3 55.9L193.1 55.8L193.9 55.7L194.8 55.6L195.6 55.5L196.4 55.4L197.2 55.3L198.1 55.2L198.9 55.1L199.7 55.0L200.5 55.0L201.4 54.9L202.2 54.8L203.0 54.7L203.8 54.6L204.6 54.5L205.5 54.4L206.3 54.4L207.1 54.3L207.9 54.2L208.8 54.1L209.6 54.0L210.4 54.0L211.2 53.9L212.0 53.8L212.9 53.8L213.7 53.7L214.5 53.6L215.3 53.5L216.2 53.5L217.0 53.4L217.8 53.3L218.6 53.3L219.5 53.2L220.3 53.2L221.1 53.1L221.9 53.0L222.7 53.0L223.6 52.9L224.4 52.9L225.2 52.8L226.0 52.8L226.9 52.7L227.7 52.7L228.5 52.6L229.3 52.6L230.2 52.5L231.0 52.5L231.8 52.4L232.6 52.4L233.4 52.3L234.3 52.3L235.1 52.3L235.9 52.2L236.7 52.2L237.6 52.1L238.4 52.1L239.2 52.1L240.0 52.0L240.9 52.0L241.7 52.0L242.5 51.9L243.3 51.9L244.1 51.9L245.0 51.9L245.8 51.8L246.6 51.8L247.4 51.8L248.3 51.8L249.1 51.7L249.9 51.7L250.7 51.7L251.6 51.7L252.4 51.6L253.2 51.6L254.0 51.6L254.8 51.6L255.7 51.6L256.5 51.6L257.3 51.6L258.1 51.5L259.0 51.5L259.8 51.5L260.6 51.5L261.4 51.5L262.3 51.5L263.1 51.5L263.9 51.5L264.7 51.5L265.5 51.5L266.4 51.5L267.2 51.5L268.0 51.5L268.8 51.5L269.7 51.5L270.5 51.5L271.3 51.5L272.1 51.5L273.0 51.5L273.8 51.5L274.6 51.5L275.4 51.5L276.2 51.5L277.1 51.6L277.9 51.6L278.7 51.6L279.5 51.6L280.4 51.6L281.2 51.6L282.0 51.6L282.8 51.7L283.7 51.7L284.5 51.7L285.3 51.7L286.1 51.7L286.9 51.8L287.8 51.8L288.6 51.8L289.4 51.8L290.2 51.9L291.1 51.9L291.9 51.9L292.7 52.0L293.5 52.0L294.4 52.0L295.2 52.1L296.0 52.1L296.8 52.1L297.6 52.2L298.5 52.2L299.3 52.3L300.1 52.3L300.9 52.3L301.8 52.4L302.6 52.4L303.4 52.5L304.2 52.5L305.1 52.6L305.9 52.6L306.7 52.7L307.4 52.7" stroke-dashoffset="0.09"/><path d="M3.2 71.2L4.0 71.5L4.8 71.8L5.6 72.1L6.5 72.4L7.3 72.8L8.1 73.1L8.9 73.5L9.8 73.8L10.6 74.2L11.4 74.5L12.2 74.9L13.1 75.2L13.9 75.6L14.7 76.0L15.5 76.4L16.3 76.8L17.2 77.2L18.0 77.6L18.8 78.0L19.6 78.5L20.5 78.9L21.3 79.3L22.1 79.8L22.9 80.3L23.8 80.7L24.6 81.2L25.4 81.7L26.1 82.1L26.8 82.6L27.5 83.0L28.1 83.4L28.8 83.9L29.5 84.4L30.2 84.8L30.9 85.3L31.6 85.8L32.3 86.3L32.9 86.8L33.6 87.3L34.3 87.9L35.0 88.4L35.7 89.0L36.4 89.5L37.1 90.1L37.7 90.7L38.4 91.3L39.1 92.0L39.8 92.6L40.5 93.3L41.2 94.0L41.9 94.7L42.5 95.4L43.1 96.0L43.6 96.6L44.2 97.2L44.7 97.9L45.3 98.5L45.8 99.2L46.4 99.9L46.9 100.6L47.5 101.3L48.0 102.1L48.6 102.9L49.1 103.7L49.7 104.5L50.2 105.4L50.8 106.3L51.2 107.0L51.6 107.7L52.0 108.4L52.4 109.2L52.8 109.9L53.2 110.7L53.7 111.6L54.1 112.4L54.5 113.3L54.9 114.2L55.3 115.2L55.7 116.1L56.1 117.2L56.5 118.2L57.0 119.4L57.2 120.1L57.5 120.9L57.8 121.7L58.0 122.6L58.3 123.5L58.6 124.4L58.9 125.3L59.1 126.3L59.4 127.3L59.7 128.4L60.0 129.5L60.2 130.7L60.5 131.9L60.8 133.2L61.1 134.5L61.3 135.9L61.5 136.7" stroke-dashoffset="1.83"/><path d="M75.3 137.2L75.9 136.6L76.4 136.0L77.1 135.3L77.8 134.6L78.5 134.0L79.2 133.3L79.9 132.7L80.6 132.0L81.2 131.4L81.9 130.9L82.6 130.3L83.3 129.7L84.0 129.2L84.7 128.6L85.4 128.1L86.0 127.6L86.7 127.1L87.4 126.6L88.1 126.1L88.8 125.6L89.5 125.2L90.2 124.7L90.8 124.3L91.5 123.8L92.2 123.4L92.9 123.0L93.6 122.5L94.4 122.1L95.2 121.6L96.1 121.1L96.9 120.7L97.7 120.2L98.5 119.8L99.3 119.3L100.2 118.9L101.0 118.5L101.8 118.1L102.6 117.7L103.5 117.3L104.3 116.9L105.1 116.5L105.9 116.1L106.8 115.8L107.6 115.4L108.4 115.1L109.2 114.7L110.0 114.4L110.9 114.0L111.7 113.7L112.5 113.4L113.3 113.0L114.2 112.7L115.0 112.4L115.8 112.1L116.6 111.8L117.5 111.5L118.3 111.2L119.1 110.9L119.9 110.6L120.7 110.3L121.6 110.1L122.4 109.8L123.2 109.5L124.0 109.3L124.9 109.0L125.7 108.7L126.5 108.5L127.3 108.2L128.2 108.0L129.0 107.7L129.8 107.5L130.6 107.3L131.4 107.0L132.3 106.8L133.1 106.6L133.9 106.3L134.7 106.1L135.6 105.9L136.4 105.7L137.2 105.5L138.0 105.3L138.9 105.1L139.7 104.9L140.5 104.6L141.3 104.4L142.1 104.3L143.0 104.1L143.8 103.9L144.6 103.7L145.4 103.5L146.3 103.3L147.1 103.1L147.9 102.9L148.7 102.8L149.5 102.6L150.4 102.4L151.2 102.2L152.0 102.1L152.8 101.9L153.7 101.7L154.5 101.6L155.3 101.4L156.1 101.2L157.0 101.1L157.8 100.9L158.6 100.8L159.4 100.6L160.2 100.5L161.1 100.3L161.9 100.2L162.7 100.0L163.5 99.9L164.4 99.8L165.2 99.6L166.0 99.5L166.8 99.3L167.7 99.2L168.5 99.1L169.3 99.0L170.1 98.8L170.9 98.7L171.8 98.6L172.6 98.4L173.4 98.3L174.2 98.2L175.1 98.1L175.9 98.0L176.7 97.9L177.5 97.7L178.4 97.6L179.2 97.5L180.0 97.4L180.8 97.3L181.6 97.2L182.5 97.1L183.3 97.0L184.1 96.9L184.9 96.8L185.8 96.7L186.6 96.6L187.4 96.5L188.2 96.4L189.1 96.3L189.9 96.2L190.7 96.1L191.5 96.0L192.3 95.9L193.2 95.8L194.0 95.8L194.8 95.7L195.6 95.6L196.5 95.5L197.3 95.4L198.1 95.3L198.9 95.3L199.8 95.2L200.6 95.1L201.4 95.0L202.2 95.0L203.0 94.9L203.9 94.8L204.7 94.7L205.5 94.7L206.3 94.6L207.2 94.5L208.0 94.5L208.8 94.4L209.6 94.4L210.5 94.3L211.3 94.2L212.1 94.2L212.9 94.1L213.7 94.1L214.6 94.0L215.4 93.9L216.2 93.9L217.0 93.8L217.9 93.8L218.7 93.7L219.5 93.7L220.3 93.6L221.2 93.6L222.0 93.5L222.8 93.5L223.6 93.5L224.4 93.4L225.3 93.4L226.1 93.3L226.9 93.3L227.7 93.3L228.6 93.2L229.4 93.2L230.2 93.1L231.0 93.1L231.9 93.1L232.7 93.0L233.5 93.0L234.3 93.0L235.1 93.0L236.0 92.9L236.8 92.9L237.6 92.9L238.4 92.8L239.3 92.8L240.1 92.8L240.9 92.8L241.7 92.8L242.6 92.7L243.4 92.7L244.2 92.7L245.0 92.7L245.8 92.7L246.7 92.7L247.5 92.6L248.3 92.6L249.1 92.6L250.0 92.6L250.8 92.6L251.6 92.6L252.4 92.6L253.2 92.6L254.1 92.6L254.9 92.6L255.7 92.6L256.5 92.6L257.4 92.6L258.2 92.6L259.0 92.6L259.8 92.6L260.7 92.6L261.5 92.6L262.3 92.6L263.1 92.6L263.9 92.6L264.8 92.6L265.6 92.6L266.4 92.6L267.2 92.6L268.1 92.6L268.9 92.6L269.7 92.7L270.5 92.7L271.4 92.7L272.2 92.7L273.0 92.7L273.8 92.7L274.6 92.8L275.5 92.8L276.3 92.8L277.1 92.8L277.9 92.9L278.8 92.9L279.6 92.9L280.4 92.9L281.2 93.0L282.1 93.0L282.9 93.0L283.7 93.1L284.5 93.1L285.3 93.1L286.2 93.2L287.0 93.2L287.8 93.2L288.6 93.3L289.5 93.3L290.3 93.3L291.1 93.4L291.9 93.4L292.8 93.5L293.6 93.5L294.4 93.6L295.2 93.6L296.0 93.6L296.9 93.7L297.7 93.7L298.5 93.8L299.3 93.8L300.2 93.9L301.0 94.0L301.8 94.0L302.6 94.1L303.5 94.1L304.3 94.2L305.1 94.2L305.9 94.3L306.7 94.4L307.3 94.4" stroke-dashoffset="1.99"/><path d="M3.3 109.1L4.1 109.4L4.9 109.7L5.7 109.9L6.6 110.2L7.4 110.5L8.2 110.8L9.0 111.1L9.9 111.4L10.7 111.6L11.5 111.9L12.3 112.3L13.1 112.6L14.0 112.9L14.8 113.2L15.6 113.5L16.4 113.9L17.3 114.2L18.1 114.5L18.9 114.9L19.7 115.2L20.6 115.6L21.4 116.0L22.2 116.3L23.0 116.7L23.8 117.1L24.7 117.5L25.5 117.9L26.3 118.3L27.1 118.7L28.0 119.1L28.8 119.5L29.6 120.0L30.4 120.4L31.3 120.9L32.1 121.3L32.9 121.8L33.7 122.3L34.5 122.8L35.2 123.2L35.9 123.6L36.6 124.1L37.3 124.5L38.0 125.0L38.7 125.4L39.3 125.9L40.0 126.4L40.7 126.9L41.4 127.4L42.1 127.9L42.8 128.4L43.5 128.9L44.1 129.5L44.8 130.0L45.5 130.6L46.2 131.2L46.9 131.8L47.6 132.4L48.3 133.0L48.9 133.7L49.6 134.4L50.3 135.0L51.0 135.7L51.7 136.5L52.2 137.1L52.4 137.2" stroke-dashoffset="1.92"/><path d="M86.3 137.8L87.1 137.4L87.9 136.9L88.7 136.5L89.6 136.1L90.4 135.7L91.2 135.3L92.0 134.9L92.9 134.5L93.7 134.1L94.5 133.7L95.3 133.4L96.1 133.0L97.0 132.7L97.8 132.3L98.6 132.0L99.4 131.6L100.3 131.3L101.1 131.0L101.9 130.6L102.7 130.3L103.6 130.0L104.4 129.7L105.2 129.4L106.0 129.1L106.8 128.8L107.7 128.5L108.5 128.2L109.3 128.0L110.1 127.7L111.0 127.4L111.8 127.1L112.6 126.9L113.4 126.6L114.3 126.4L115.1 126.1L115.9 125.8L116.7 125.6L117.5 125.4L118.4 125.1L119.2 124.9L120.0 124.6L120.8 124.4L121.7 124.2L122.5 124.0L123.3 123.7L124.1 123.5L125.0 123.3L125.8 123.1L126.6 122.9L127.4 122.7L128.2 122.5L129.1 122.3L129.9 122.1L130.7 121.9L131.5 121.7L132.4 121.5L133.2 121.3L134.0 121.1L134.8 120.9L135.7 120.7L136.5 120.5L137.3 120.4L138.1 120.2L138.9 120.0L139.8 119.8L140.6 119.7L141.4 119.5L142.2 119.3L143.1 119.2L143.9 119.0L144.7 118.9L145.5 118.7L146.4 118.5L147.2 118.4L148.0 118.2L148.8 118.1L149.6 117.9L150.5 117.8L151.3 117.6L152.1 117.5L152.9 117.4L153.8 117.2L154.6 117.1L155.4 117.0L156.2 116.8L157.1 116.7L157.9 116.6L158.7 116.4L159.5 116.3L160.3 116.2L161.2 116.1L162.0 115.9L162.8 115.8L163.6 115.7L164.5 115.6L165.3 115.5L166.1 115.3L166.9 115.2L167.8 115.1L168.6 115.0L169.4 114.9L170.2 114.8L171.0 114.7L171.9 114.6L172.7 114.5L173.5 114.4L174.3 114.3L175.2 114.2L176.0 114.1L176.8 114.0L177.6 113.9L178.4 113.8L179.3 113.7L180.1 113.6L180.9 113.5L181.7 113.4L182.6 113.4L183.4 113.3L184.2 113.2L185.0 113.1L185.9 113.0L186.7 112.9L187.5 112.9L188.3 112.8L189.1 112.7L190.0 112.6L190.8 112.6L191.6 112.5L192.4 112.4L193.3 112.4L194.1 112.3L194.9 112.2L195.7 112.2L196.6 112.1L197.4 112.0L198.2 112.0L199.0 111.9L199.8 111.8L200.7 111.8L201.5 111.7L202.3 111.7L203.1 111.6L204.0 111.6L204.8 111.5L205.6 111.4L206.4 111.4L207.3 111.3L208.1 111.3L208.9 111.2L209.7 111.2L210.5 111.2L211.4 111.1L212.2 111.1L213.0 111.0L213.8 111.0L214.7 110.9L215.5 110.9L216.3 110.9L217.1 110.8L218.0 110.8L218.8 110.8L219.6 110.7L220.4 110.7L221.2 110.7L222.1 110.6L222.9 110.6L223.7 110.6L224.5 110.5L225.4 110.5L226.2 110.5L227.0 110.5L227.8 110.4L228.7 110.4L229.5 110.4L230.3 110.4L231.1 110.3L231.9 110.3L232.8 110.3L233.6 110.3L234.4 110.3L235.2 110.3L236.1 110.3L236.9 110.2L237.7 110.2L238.5 110.2L239.4 110.2L240.2 110.2L241.0 110.2L241.8 110.2L242.6 110.2L243.5 110.2L244.3 110.2L245.1 110.2L245.9 110.2L246.8 110.2L247.6 110.2L248.4 110.2L249.2 110.2L250.1 110.2L250.9 110.2L251.7 110.2L252.5 110.2L253.3 110.2L254.2 110.2L255.0 110.2L255.8 110.2L256.6 110.2L257.5 110.3L258.3 110.3L259.1 110.3L259.9 110.3L260.8 110.3L261.6 110.3L262.4 110.4L263.2 110.4L264.0 110.4L264.9 110.4L265.7 110.4L266.5 110.5L267.3 110.5L268.2 110.5L269.0 110.5L269.8 110.6L270.6 110.6L271.5 110.6L272.3 110.7L273.1 110.7L273.9 110.7L274.7 110.8L275.6 110.8L276.4 110.8L277.2 110.9L278.0 110.9L278.9 110.9L279.7 111.0L280.5 111.0L281.3 111.1L282.1 111.1L283.0 111.2L283.8 111.2L284.6 111.3L285.4 111.3L286.3 111.4L287.1 111.4L287.9 111.5L288.7 111.5L289.6 111.6L290.4 111.6L291.2 111.7L292.0 111.7L292.8 111.8L293.7 111.8L294.5 111.9L295.3 112.0L296.1 112.0L297.0 112.1L297.8 112.2L298.6 112.2L299.4 112.3L300.3 112.4L301.1 112.4L301.9 112.5L302.7 112.6L303.5 112.7L304.4 112.7L305.2 112.8L306.0 112.9L306.8 113.0L307.4 113.0" stroke-dashoffset="0.92"/><path d="M3.2 123.4L4.0 123.6L4.8 123.8L5.6 124.1L6.5 124.3L7.3 124.5L8.1 124.8L8.9 125.0L9.8 125.2L10.6 125.5L11.4 125.7L12.2 126.0L13.1 126.2L13.9 126.5L14.7 126.7L15.5 127.0L16.3 127.3L17.2 127.5L18.0 127.8L18.8 128.1L19.6 128.4L20.5 128.7L21.3 129.0L22.1 129.3L22.9 129.6L23.7 129.9L24.6 130.2L25.4 130.5L26.2 130.8L27.0 131.1L27.9 131.5L28.7 131.8L29.5 132.1L30.3 132.5L31.2 132.8L32.0 133.2L32.8 133.6L33.6 133.9L34.4 134.3L35.3 134.7L36.1 135.1L36.9 135.5L37.7 135.9L38.6 136.3L39.4 136.7L40.2 137.2L41.0 137.6L41.4 137.8" stroke-dashoffset="1.82"/><path d="M105.0 139.9L105.8 139.7L106.6 139.5L107.4 139.3L108.3 139.1L109.1 138.9L109.9 138.7L110.7 138.5L111.6 138.3L112.4 138.1L113.2 137.9L114.0 137.8L114.9 137.6L115.7 137.4L116.5 137.2L117.3 137.1L118.1 136.9L119.0 136.7L119.8 136.6L120.6 136.4L121.4 136.2L122.3 136.1L123.1 135.9L123.9 135.8L124.7 135.6L125.6 135.5L126.4 135.3L127.2 135.2L128.0 135.0L128.8 134.9L129.7 134.7L130.5 134.6L131.3 134.5L132.1 134.3L133.0 134.2L133.8 134.1L134.6 133.9L135.4 133.8L136.3 133.7L137.1 133.6L137.9 133.4L138.7 133.3L139.5 133.2L140.4 133.1L141.2 132.9L142.0 132.8L142.8 132.7L143.7 132.6L144.5 132.5L145.3 132.4L146.1 132.3L147.0 132.2L147.8 132.1L148.6 132.0L149.4 131.8L150.2 131.7L151.1 131.6L151.9 131.5L152.7 131.5L153.5 131.4L154.4 131.3L155.2 131.2L156.0 131.1L156.8 131.0L157.7 130.9L158.5 130.8L159.3 130.7L160.1 130.6L160.9 130.5L161.8 130.5L162.6 130.4L163.4 130.3L164.2 130.2L165.1 130.1L165.9 130.1L166.7 130.0L167.5 129.9L168.4 129.8L169.2 129.8L170.0 129.7L170.8 129.6L171.6 129.6L172.5 129.5L173.3 129.4L174.1 129.4L174.9 129.3L175.8 129.2L176.6 129.2L177.4 129.1L178.2 129.1L179.1 129.0L179.9 128.9L180.7 128.9L181.5 128.8L182.3 128.8L183.2 128.7L184.0 128.7L184.8 128.6L185.6 128.6L186.5 128.5L187.3 128.5L188.1 128.4L188.9 128.4L189.8 128.4L190.6 128.3L191.4 128.3L192.2 128.2L193.0 128.2L193.9 128.2L194.7 128.1L195.5 128.1L196.3 128.0L197.2 128.0L198.0 128.0L198.8 128.0L199.6 127.9L200.5 127.9L201.3 127.9L202.1 127.8L202.9 127.8L203.7 127.8L204.6 127.8L205.4 127.7L206.2 127.7L207.0 127.7L207.9 127.7L208.7 127.7L209.5 127.6L210.3 127.6L211.1 127.6L212.0 127.6L212.8 127.6L213.6 127.6L214.4 127.5L215.3 127.5L216.1 127.5L216.9 127.5L217.7 127.5L218.6 127.5L219.4 127.5L220.2 127.5L221.0 127.5L221.8 127.5L222.7 127.5L223.5 127.5L224.3 127.5L225.1 127.5L226.0 127.5L226.8 127.5L227.6 127.5L228.4 127.5L229.3 127.5L230.1 127.5L230.9 127.5L231.7 127.5L232.5 127.5L233.4 127.5L234.2 127.6L235.0 127.6L235.8 127.6L236.7 127.6L237.5 127.6L238.3 127.6L239.1 127.7L240.0 127.7L240.8 127.7L241.6 127.7L242.4 127.7L243.2 127.8L244.1 127.8L244.9 127.8L245.7 127.8L246.5 127.9L247.4 127.9L248.2 127.9L249.0 128.0L249.8 128.0L250.7 128.0L251.5 128.1L252.3 128.1L253.1 128.1L253.9 128.2L254.8 128.2L255.6 128.2L256.4 128.3L257.2 128.3L258.1 128.4L258.9 128.4L259.7 128.5L260.5 128.5L261.4 128.5L262.2 128.6L263.0 128.6L263.8 128.7L264.6 128.7L265.5 128.8L266.3 128.8L267.1 128.9L267.9 129.0L268.8 129.0L269.6 129.1L270.4 129.1L271.2 129.2L272.1 129.3L272.9 129.3L273.7 129.4L274.5 129.4L275.3 129.5L276.2 129.6L277.0 129.6L277.8 129.7L278.6 129.8L279.5 129.9L280.3 129.9L281.1 130.0L281.9 130.1L282.8 130.2L283.6 130.2L284.4 130.3L285.2 130.4L286.0 130.5L286.9 130.6L287.7 130.6L288.5 130.7L289.3 130.8L290.2 130.9L291.0 131.0L291.8 131.1L292.6 131.2L293.5 131.3L294.3 131.4L295.1 131.5L295.9 131.6L296.7 131.7L297.6 131.8L298.4 131.9L299.2 132.0L300.0 132.1L300.9 132.2L301.7 132.3L302.5 132.4L303.3 132.5L304.2 132.6L305.0 132.7L305.8 132.8L306.6 133.0L307.3 133.1" stroke-dashoffset="0.43"/><path d="M3.3 135.7L4.1 135.8L4.9 136.0L5.7 136.1L6.6 136.3L7.4 136.5L8.2 136.6L9.0 136.8L9.8 137.0L10.7 137.1L11.5 137.3L12.3 137.5L13.1 137.6L14.0 137.8L14.8 138.0L15.6 138.2L16.4 138.4L17.2 138.6L18.1 138.8L18.9 138.9L19.7 139.1L20.5 139.3L21.4 139.5L22.2 139.7L22.7 139.9" stroke-dashoffset="1.91"/><path d="M118.5 142.6L119.3 142.5L120.1 142.4L120.9 142.3L121.8 142.2L122.6 142.1L123.4 142.0L124.2 141.8L125.1 141.7L125.9 141.6L126.7 141.5L127.5 141.4L128.4 141.3L129.2 141.2L130.0 141.1L130.8 141.0L131.6 140.9L132.5 140.8L133.3 140.8L134.1 140.7L134.9 140.6L135.8 140.5L136.6 140.4L137.4 140.3L138.2 140.2L139.1 140.2L139.9 140.1L140.7 140.0L141.5 139.9L142.3 139.8L143.2 139.8L144.0 139.7L144.8 139.6L145.6 139.5L146.5 139.5L147.3 139.4L148.1 139.3L148.9 139.3L149.8 139.2L150.6 139.1L151.4 139.1L152.2 139.0L153.0 138.9L153.9 138.9L154.7 138.8L155.5 138.8L156.3 138.7L157.2 138.6L158.0 138.6L158.8 138.5L159.6 138.5L160.4 138.4L161.3 138.4L162.1 138.3L162.9 138.3L163.7 138.2L164.6 138.2L165.4 138.1L166.2 138.1L167.0 138.0L167.9 138.0L168.7 138.0L169.5 137.9L170.3 137.9L171.1 137.8L172.0 137.8L172.8 137.8L173.6 137.7L174.4 137.7L175.3 137.7L176.1 137.6L176.9 137.6L177.7 137.6L178.6 137.6L179.4 137.5L180.2 137.5L181.0 137.5L181.8 137.5L182.7 137.4L183.5 137.4L184.3 137.4L185.1 137.4L186.0 137.3L186.8 137.3L187.6 137.3L188.4 137.3L189.3 137.3L190.1 137.3L190.9 137.3L191.7 137.2L192.5 137.2L193.4 137.2L194.2 137.2L195.0 137.2L195.8 137.2L196.7 137.2L197.5 137.2L198.3 137.2L199.1 137.2L200.0 137.2L200.8 137.2L201.6 137.2L202.4 137.2L203.2 137.2L204.1 137.2L204.9 137.2L205.7 137.2L206.5 137.2L207.4 137.2L208.2 137.2L209.0 137.2L209.8 137.2L210.7 137.3L211.5 137.3L212.3 137.3L213.1 137.3L213.9 137.3L214.8 137.3L215.6 137.3L216.4 137.4L217.2 137.4L218.1 137.4L218.9 137.4L219.7 137.4L220.5 137.5L221.4 137.5L222.2 137.5L223.0 137.5L223.8 137.6L224.6 137.6L225.5 137.6L226.3 137.7L227.1 137.7L227.9 137.7L228.8 137.8L229.6 137.8L230.4 137.8L231.2 137.9L232.1 137.9L232.9 137.9L233.7 138.0L234.5 138.0L235.3 138.1L236.2 138.1L237.0 138.2L237.8 138.2L238.6 138.3L239.5 138.3L240.3 138.3L241.1 138.4L241.9 138.5L242.8 138.5L243.6 138.6L244.4 138.6L245.2 138.7L246.0 138.7L246.9 138.8L247.7 138.8L248.5 138.9L249.3 139.0L250.2 139.0L251.0 139.1L251.8 139.2L252.6 139.2L253.5 139.3L254.3 139.4L255.1 139.4L255.9 139.5L256.7 139.6L257.6 139.6L258.4 139.7L259.2 139.8L260.0 139.9L260.9 139.9L261.7 140.0L262.5 140.1L263.3 140.2L264.1 140.3L265.0 140.4L265.8 140.4L266.6 140.5L267.4 140.6L268.3 140.7L269.1 140.8L269.9 140.9L270.7 141.0L271.6 141.1L272.4 141.2L273.2 141.3L274.0 141.4L274.8 141.5L275.7 141.6L276.5 141.7L277.3 141.8L278.1 141.9L279.0 142.0L279.8 142.1L280.6 142.2L281.4 142.3L282.3 142.5L283.1 142.6L283.9 142.7L284.7 142.8L285.5 142.9L286.4 143.0L287.2 143.2L288.0 143.3L288.8 143.4L289.7 143.5L290.5 143.7L291.3 143.8L292.1 143.9L293.0 144.1L293.8 144.2L294.6 144.4L295.4 144.5L296.2 144.6L297.1 144.8L297.9 144.9L298.7 145.1L299.5 145.2L300.4 145.4L301.2 145.5L302.0 145.7L302.8 145.8L303.7 146.0L304.5 146.2L305.3 146.3L306.1 146.5L306.9 146.7L307.4 146.7" stroke-dashoffset="1.93"/><path d="M3.2 141.8L4.0 141.9L4.9 142.0L5.7 142.1L6.5 142.2L7.3 142.4L8.1 142.5L9.0 142.6L9.2 142.6" stroke-dashoffset="1.86"/><path d="M131.5 148.5L132.3 148.5L133.1 148.4L133.9 148.4L134.8 148.4L135.6 148.4L136.4 148.3L137.2 148.3L138.1 148.3L138.9 148.3L139.7 148.3L140.5 148.2L141.4 148.2L142.2 148.2L143.0 148.2L143.8 148.2L144.6 148.2L145.5 148.1L146.3 148.1L147.1 148.1L147.9 148.1L148.8 148.1L149.6 148.1L150.4 148.1L151.2 148.1L152.1 148.1L152.9 148.1L153.7 148.1L154.5 148.1L155.3 148.1L156.2 148.1L157.0 148.1L157.8 148.1L158.6 148.1L159.5 148.1L160.3 148.1L161.1 148.1L161.9 148.1L162.8 148.1L163.6 148.1L164.4 148.1L165.2 148.2L166.0 148.2L166.9 148.2L167.7 148.2L168.5 148.2L169.3 148.2L170.2 148.2L171.0 148.3L171.8 148.3L172.6 148.3L173.4 148.3L174.3 148.3L175.1 148.4L175.9 148.4L176.7 148.4L177.6 148.5L178.4 148.5L179.2 148.5L180.0 148.5L180.9 148.6L181.7 148.6L182.5 148.6L183.3 148.7L184.1 148.7L185.0 148.7L185.8 148.8L186.6 148.8L187.4 148.9L188.3 148.9L189.1 148.9L189.9 149.0L190.7 149.0L191.6 149.1L192.4 149.1L193.2 149.2L194.0 149.2L194.8 149.3L195.7 149.3L196.5 149.4L197.3 149.4L198.1 149.5L199.0 149.5L199.8 149.6L200.6 149.6L201.4 149.7L202.3 149.8L203.1 149.8L203.9 149.9L204.7 149.9L205.5 150.0L206.4 150.1L207.2 150.1L208.0 150.2L208.8 150.3L209.7 150.3L210.5 150.4L211.3 150.5L212.1 150.6L213.0 150.6L213.8 150.7L214.6 150.8L215.4 150.9L216.2 151.0L217.1 151.0L217.9 151.1L218.7 151.2L219.5 151.3L220.4 151.4L221.2 151.5L222.0 151.5L222.8 151.6L223.7 151.7L224.5 151.8L225.3 151.9L226.1 152.0L226.9 152.1L227.8 152.2L228.6 152.3L229.4 152.4L230.2 152.5L231.1 152.6L231.9 152.7L232.7 152.8L233.5 152.9L234.4 153.1L235.2 153.2L236.0 153.3L236.8 153.4L237.6 153.5L238.5 153.6L239.3 153.7L240.1 153.9L240.9 154.0L241.8 154.1L242.6 154.2L243.4 154.4L244.2 154.5L245.1 154.6L245.9 154.8L246.7 154.9L247.5 155.0L248.3 155.2L249.2 155.3L250.0 155.4L250.8 155.6L251.6 155.7L252.5 155.9L253.3 156.0L254.1 156.2L254.9 156.3L255.8 156.5L256.6 156.6L257.4 156.8L258.2 157.0L259.0 157.1L259.9 157.3L260.7 157.4L261.5 157.6L262.3 157.8L263.2 158.0L264.0 158.1L264.8 158.3L265.6 158.5L266.5 158.7L267.3 158.8L268.1 159.0L268.9 159.2L269.7 159.4L270.6 159.6L271.4 159.8L272.2 160.0L273.0 160.2L273.9 160.4L274.7 160.6L275.5 160.8L276.3 161.0L277.1 161.2L278.0 161.5L278.8 161.7L279.6 161.9L280.4 162.1L281.3 162.4L282.1 162.6L282.9 162.8L283.7 163.1L284.6 163.3L285.4 163.5L286.2 163.8L287.0 164.0L287.8 164.3L288.7 164.6L289.5 164.8L290.3 165.1L291.1 165.4L292.0 165.6L292.8 165.9L293.6 166.2L294.4 166.5L295.3 166.8L296.1 167.1L296.9 167.4L297.7 167.7L298.5 168.0L299.4 168.3L300.2 168.6L301.0 168.9L301.8 169.3L302.7 169.6L303.5 169.9L304.3 170.3L305.1 170.6L306.0 171.0L306.8 171.3L307.3 171.6" stroke-dashoffset="0.53"/><path d="M124.8 157.8L125.7 157.8L126.5 157.9L127.3 158.0L128.1 158.1L128.9 158.2L129.8 158.3L130.6 158.4L131.4 158.4L132.2 158.5L133.1 158.6L133.9 158.7L134.7 158.8L135.5 158.9L136.4 159.0L137.2 159.1L138.0 159.2L138.8 159.3L139.6 159.4L140.5 159.5L141.3 159.6L142.1 159.7L142.9 159.9L143.8 160.0L144.6 160.1L145.4 160.2L146.2 160.3L147.1 160.4L147.9 160.5L148.7 160.7L149.5 160.8L150.3 160.9L151.2 161.0L152.0 161.2L152.8 161.3L153.6 161.4L154.5 161.6L155.3 161.7L156.1 161.8L156.9 162.0L157.8 162.1L158.6 162.2L159.4 162.4L160.2 162.5L161.0 162.7L161.9 162.8L162.7 163.0L163.5 163.1L164.3 163.3L165.2 163.4L166.0 163.6L166.8 163.8L167.6 163.9L168.4 164.1L169.3 164.2L170.1 164.4L170.9 164.6L171.7 164.8L172.6 164.9L173.4 165.1L174.2 165.3L175.0 165.5L175.9 165.7L176.7 165.8L177.5 166.0L178.3 166.2L179.1 166.4L180.0 166.6L180.8 166.8L181.6 167.0L182.4 167.2L183.3 167.4L184.1 167.6L184.9 167.8L185.7 168.1L186.6 168.3L187.4 168.5L188.2 168.7L189.0 168.9L189.8 169.2L190.7 169.4L191.5 169.6L192.3 169.9L193.1 170.1L194.0 170.4L194.8 170.6L195.6 170.9L196.4 171.1L197.3 171.4L198.1 171.6L198.9 171.9L199.7 172.2L200.5 172.4L201.4 172.7L202.2 173.0L203.0 173.3L203.8 173.6L204.7 173.9L205.5 174.2L206.3 174.5L207.1 174.8L208.0 175.1L208.8 175.4L209.6 175.7L210.4 176.1L211.2 176.4L212.1 176.7L212.9 177.1L213.7 177.4L214.5 177.8L215.4 178.2L216.2 178.5L217.0 178.9L217.8 179.3L218.7 179.7L219.5 180.1L220.3 180.5L221.1 180.9L221.9 181.3L222.8 181.7L223.6 182.2L224.4 182.6L225.2 183.1L226.1 183.5L226.9 184.0L227.7 184.5L228.5 185.0L229.2 185.4L229.9 185.8L230.6 186.2L231.3 186.7L232.0 187.1L232.6 187.6L233.3 188.0L234.0 188.5L234.7 189.0L235.4 189.5L236.1 190.0L236.8 190.5L237.4 191.1L238.1 191.6L238.8 192.1L239.5 192.7L240.2 193.3L240.9 193.9L241.6 194.5L242.2 195.1L242.9 195.8L243.6 196.4L244.3 197.1L245.0 197.8L245.7 198.5L246.2 199.1L246.8 199.7L247.3 200.3L247.9 200.9L248.4 201.6L249.0 202.3L249.5 202.9L250.1 203.6L250.6 204.4L251.2 205.1L251.7 205.9L252.3 206.7L252.8 207.5L253.4 208.3L253.9 209.2L254.5 210.1L254.9 210.8L255.3 211.6L255.7 212.3L256.1 213.1L256.5 213.9L256.9 214.7L257.3 215.5L257.7 216.4L258.2 217.3L258.6 218.2L259.0 219.2L259.4 220.2L259.8 221.3L260.2 222.4L260.5 223.1L260.8 223.9L261.0 224.7L261.3 225.6L261.6 226.4L261.9 227.3L262.1 228.3" stroke-dashoffset="1.08"/><path d="M107.7 162.1L108.5 162.3L109.4 162.5L110.2 162.6L111.0 162.8L111.8 163.0L112.6 163.2L113.5 163.4L114.3 163.6L115.1 163.8L115.9 164.1L116.8 164.3L117.6 164.5L118.4 164.7L119.2 164.9L120.1 165.1L120.9 165.4L121.7 165.6L122.5 165.8L123.3 166.1L124.2 166.3L125.0 166.6L125.8 166.8L126.6 167.1L127.5 167.3L128.3 167.6L129.1 167.8L129.9 168.1L130.8 168.4L131.6 168.6L132.4 168.9L133.2 169.2L134.0 169.5L134.9 169.8L135.7 170.1L136.5 170.4L137.3 170.7L138.2 171.0L139.0 171.3L139.8 171.6L140.6 171.9L141.4 172.2L142.3 172.6L143.1 172.9L143.9 173.2L144.7 173.6L145.6 173.9L146.4 174.3L147.2 174.7L148.0 175.0L148.9 175.4L149.7 175.8L150.5 176.2L151.3 176.6L152.1 177.0L153.0 177.4L153.8 177.8L154.6 178.3L155.4 178.7L156.3 179.2L157.1 179.6L157.9 180.1L158.7 180.5L159.6 181.0L160.2 181.4L160.9 181.9L161.6 182.3L162.3 182.7L163.0 183.2L163.7 183.6L164.4 184.1L165.0 184.6L165.7 185.0L166.4 185.5L167.1 186.0L167.8 186.5L168.5 187.1L169.2 187.6L169.8 188.1L170.5 188.7L171.2 189.3L171.9 189.9L172.6 190.5L173.3 191.1L174.0 191.7L174.6 192.3L175.3 193.0L176.0 193.7L176.7 194.4L177.4 195.1L177.9 195.7L178.5 196.3L179.0 197.0L179.6 197.6L180.1 198.2L180.7 198.9L181.2 199.6L181.8 200.3L182.3 201.1L182.9 201.8L183.4 202.6L184.0 203.4L184.5 204.2L185.1 205.1L185.6 206.0L186.0 206.7L186.4 207.4L186.9 208.1L187.3 208.9L187.7 209.7L188.1 210.5L188.5 211.3L188.9 212.1L189.3 213.0L189.7 213.9L190.1 214.9L190.6 215.9L191.0 216.9L191.4 218.0L191.8 219.1L192.1 219.9L192.3 220.7L192.6 221.5L192.9 222.3L193.2 223.2L193.4 224.1L193.7 225.1L194.0 226.0L194.3 227.1L194.5 228.1L194.7 228.7" stroke-dashoffset="0.76"/><path d="M3.3 166.4L4.1 166.2L4.9 165.9L5.7 165.7L6.6 165.5L7.4 165.2L8.2 165.0L9.0 164.8L9.9 164.6L10.7 164.3L11.5 164.1L12.3 163.9L13.2 163.7L14.0 163.5L14.8 163.3L15.6 163.1L16.4 162.9L17.3 162.7L18.1 162.5L18.9 162.3L19.7 162.1L20.0 162.1" stroke-dashoffset="1.93"/><path d="M86.6 164.5L87.4 165.0L88.3 165.4L89.1 165.9L89.9 166.4L90.7 166.8L91.5 167.3L92.2 167.8L92.9 168.2L93.6 168.6L94.3 169.1L95.0 169.5L95.7 170.0L96.3 170.4L97.0 170.9L97.7 171.4L98.4 171.9L99.1 172.4L99.8 172.9L100.5 173.5L101.1 174.0L101.8 174.6L102.5 175.1L103.2 175.7L103.9 176.3L104.6 176.9L105.3 177.5L105.9 178.2L106.6 178.8L107.3 179.5L108.0 180.2L108.7 180.9L109.2 181.5L109.8 182.1L110.3 182.8L110.9 183.4L111.4 184.1L112.0 184.7L112.5 185.4L113.1 186.1L113.6 186.9L114.2 187.6L114.7 188.4L115.3 189.2L115.8 190.0L116.4 190.9L116.9 191.7L117.5 192.7L117.9 193.4L118.3 194.1L118.7 194.9L119.1 195.6L119.5 196.4L119.9 197.3L120.3 198.1L120.8 199.0L121.2 199.9L121.6 200.9L122.0 201.8L122.4 202.9L122.8 203.9L123.2 205.1L123.5 205.8L123.8 206.6L124.1 207.4L124.3 208.3L124.6 209.2L124.9 210.1L125.1 211.0L125.4 212.0L125.7 213.0L126.0 214.1L126.2 215.2L126.5 216.4L126.8 217.6L127.1 218.9L127.3 220.2L127.6 221.6L127.9 223.1L128.2 224.7L128.3 225.6L128.4 226.4L128.6 227.3L128.7 228.2" stroke-dashoffset="1.25"/><path d="M3.3 208.7L3.5 207.9L3.8 207.0L4.1 206.2L4.4 205.4L4.6 204.7L5.0 203.6L5.4 202.5L5.9 201.5L6.3 200.5L6.7 199.6L7.1 198.7L7.5 197.8L7.9 197.0L8.3 196.2L8.7 195.4L9.2 194.6L9.6 193.9L10.0 193.1L10.4 192.4L10.9 191.5L11.5 190.6L12.0 189.8L12.6 189.0L13.1 188.2L13.7 187.4L14.2 186.7L14.8 185.9L15.3 185.2L15.9 184.6L16.4 183.9L17.0 183.2L17.5 182.6L18.1 182.0L18.6 181.4L19.2 180.8L19.9 180.1L20.5 179.4L21.2 178.7L21.9 178.1L22.6 177.4L23.3 176.8L24.0 176.2L24.7 175.6L25.3 175.0L26.0 174.4L26.7 173.9L27.4 173.3L28.1 172.8L28.8 172.3L29.5 171.8L30.1 171.3L30.8 170.8L31.5 170.3L32.2 169.9L32.9 169.4L33.6 169.0L34.3 168.5L34.9 168.1L35.6 167.7L36.3 167.3L37.1 166.8L38.0 166.3L38.8 165.8L39.6 165.3L40.4 164.9L41.1 164.5" stroke-dashoffset="1.90"/><path d="M63.9 224.9L63.9 220.3L63.9 215.7L63.9 211.2L63.9 206.6L63.9 202.0L63.9 197.4L63.9 192.8L63.9 188.2L63.9 183.6L63.9 179.0L63.9 174.4L63.9 169.9L63.9 165.3" stroke-dashoffset="0.11"/><path d="M63.9 224.9L63.9 220.3L63.9 215.7L63.9 211.2L63.9 206.6L63.9 202.0L63.9 197.4L63.9 192.8L63.9 188.2L63.9 183.6L63.9 179.0L63.9 174.4L63.9 169.9L63.9 165.3" stroke-dashoffset="0.11"/></g><path d="M63.9 7.85V213.7" fill="none" stroke="#4444fc" stroke-width="1.45" stroke-dasharray="6.2 2.38"/><path d="M18.15 154.9H292.4" fill="none" stroke="#4444fc" stroke-width="1.45" stroke-dasharray="6.6 2.55" stroke-dashoffset="8.5"/><path d="M61.3 154.9h5.2M63.9 152.3v5.2" fill="none" stroke="#444" stroke-width="1"/><path d="M269.4 -6.7L269.4 -5.5L269.4 -4.4L269.4 -3.2L269.4 -2.0L269.4 -0.8L269.4 0.3L269.4 1.5L269.4 2.7L269.4 3.9L269.4 5.1L269.3 6.2L269.3 7.4L269.3 8.6L269.3 9.8L269.3 11.0L269.3 12.1L269.3 13.3L269.3 14.5L269.3 15.7L269.2 16.8L269.2 18.0L269.2 19.2L269.2 20.4L269.2 21.6L269.2 22.7L269.2 23.9L269.1 25.1L269.1 26.3L269.1 27.4L269.1 28.6L269.0 29.8L269.0 31.0L269.0 32.2L269.0 33.3L268.9 34.5L268.9 35.7L268.9 36.9L268.9 38.1L268.8 39.2L268.8 40.4L268.8 41.6L268.7 42.8L268.7 43.9L268.6 45.1L268.6 46.3L268.6 47.5L268.5 48.7L268.5 49.8L268.4 51.0L268.4 52.2L268.3 53.4L268.2 54.5L268.2 55.7L268.1 56.9L268.0 58.1L268.0 59.3L267.9 60.4L267.8 61.6L267.7 62.8L267.7 64.0L267.6 65.2L267.5 66.3L267.4 67.5L267.3 68.7L267.2 69.9L267.0 71.0L266.9 72.2L266.8 73.4L266.7 74.6L266.5 75.8L266.4 76.9L266.2 78.1L266.1 79.3L265.9 80.5L265.8 81.7L265.6 82.8L265.4 84.0L265.2 85.2L265.0 86.4L264.8 87.6L264.6 88.7L264.3 89.9L264.1 91.1L263.8 92.3L263.5 93.5L263.3 94.6L263.0 95.8L262.7 97.0L262.3 98.2L262.0 99.4L261.6 100.5L261.3 101.7L260.9 102.9L260.5 104.1L260.0 105.3L259.6 106.5L259.1 107.6L258.6 108.8L258.1 110.0L257.6 111.2L257.0 112.4L256.4 113.6L255.8 114.8L255.2 116.0L254.5 117.2L253.8 118.4L253.1 119.6L252.3 120.8L251.5 122.0L250.6 123.2L249.8 124.4L248.9 125.6L247.9 126.8L246.9 128.0L245.8 129.2L245.3 129.8L244.7 130.4L244.2 131.0L243.6 131.6L243.0 132.2L242.4 132.9L241.8 133.5L241.2 134.1L240.5 134.7L239.9 135.3L239.2 135.9L238.5 136.6L237.8 137.2L237.1 137.8L236.4 138.4L235.7 139.1L234.9 139.7L234.1 140.3L233.3 141.0L232.5 141.6L231.7 142.2L230.9 142.9L230.1 143.5L229.2 144.1L228.3 144.8L227.4 145.4L226.5 146.1L225.6 146.7L224.6 147.4L223.6 148.1L222.7 148.7L221.7 149.4L220.6 150.0L219.6 150.7L218.6 151.4L217.5 152.1L216.4 152.7L215.3 153.4L214.2 154.1L213.0 154.8L211.9 155.5L210.7 156.2L209.5 156.9L208.3 157.6L207.1 158.3L205.9 159.0L204.6 159.7L203.3 160.5L202.0 161.2L200.7 161.9L199.4 162.7L198.1 163.4L196.7 164.2L195.4 164.9L194.0 165.7L192.6 166.5L191.2 167.2L189.8 168.0L188.4 168.8L186.9 169.6L185.5 170.4L184.1 171.2L182.6 172.0L181.1 172.8L179.6 173.6L178.2 174.5L176.7 175.3L175.2 176.1L173.7 177.0L172.2 177.8L170.7 178.7L169.2 179.6L167.6 180.5L166.1 181.3L164.6 182.2L163.1 183.1L161.6 184.0L160.1 184.9L158.6 185.9L157.1 186.8L155.6 187.7L154.1 188.6L152.7 189.6L151.2 190.5L149.7 191.5L148.3 192.5L146.8 193.4L145.4 194.4L144.0 195.4L142.5 196.4L141.1 197.4L139.8 198.4L138.4 199.4L137.0 200.4L135.7 201.4L134.3 202.4L133.0 203.4L131.7 204.5L130.4 205.5L129.1 206.5L127.9 207.6L126.6 208.6L125.4 209.7L124.2 210.8L123.0 211.8L121.8 212.9L120.7 214.0L119.5 215.0L118.4 216.1L117.3 217.2L116.2 218.3L115.1 219.4L114.1 220.5L113.0 221.6L112.0 222.7L111.0 223.8L110.0 224.9L109.0 226.0L108.1 227.1L107.1 228.2" fill="none" stroke="#f80006" stroke-width="1.9" stroke-linejoin="round"/></g><rect x="18.15" y="7.85" width="274.25" height="205.85" fill="none" stroke="#484848" stroke-width="1.3"/><path d="M18.1 213.7v-3M18.1 7.85v3M63.9 213.7v-3M63.9 7.85v3M109.6 213.7v-3M109.6 7.85v3M155.3 213.7v-3M155.3 7.85v3M201.0 213.7v-3M201.0 7.85v3M246.7 213.7v-3M246.7 7.85v3M292.4 213.7v-3M292.4 7.85v3M18.15 213.7h3M292.4 213.7h-3M18.15 184.3h3M292.4 184.3h-3M18.15 154.9h3M292.4 154.9h-3M18.15 125.5h3M292.4 125.5h-3M18.15 96.1h3M292.4 96.1h-3M18.15 66.7h3M292.4 66.7h-3M18.15 37.3h3M292.4 37.3h-3M18.15 7.8h3M292.4 7.8h-3" fill="none" stroke="#333" stroke-width="1"/><circle cx="269.0" cy="31.4" r="2.75" fill="none" stroke="#1f8f1f" stroke-width="1.1"/><text transform="translate(271.42,38.77) scale(1.0,1.0)" font-size="10.8" fill="#000" stroke="#000" stroke-width="0.3">10</text><circle cx="266.9" cy="72.5" r="2.75" fill="none" stroke="#1f8f1f" stroke-width="1.1"/><text transform="translate(269.30,79.89) scale(1.0,1.0)" font-size="10.8" fill="#000" stroke="#000" stroke-width="0.3">50</text><circle cx="264.3" cy="90.2" r="2.75" fill="none" stroke="#1f8f1f" stroke-width="1.1"/><text transform="translate(266.66,97.61) scale(1.0,1.0)" font-size="10.8" fill="#000" stroke="#000" stroke-width="0.3">100</text><circle cx="259.0" cy="108.0" r="2.75" fill="none" stroke="#1f8f1f" stroke-width="1.1"/><text transform="translate(261.39,115.38) scale(1.0,1.0)" font-size="10.8" fill="#000" stroke="#000" stroke-width="0.3">200</text><circle cx="253.8" cy="118.4" r="2.75" fill="none" stroke="#1f8f1f" stroke-width="1.1"/><text transform="translate(256.15,125.84) scale(1.0,1.0)" font-size="10.8" fill="#000" stroke="#000" stroke-width="0.3">300</text><circle cx="243.4" cy="131.8" r="2.75" fill="none" stroke="#1f8f1f" stroke-width="1.1"/><text transform="translate(245.84,139.21) scale(1.0,1.0)" font-size="10.8" fill="#000" stroke="#000" stroke-width="0.3">500</text><circle cx="219.3" cy="150.9" r="2.75" fill="none" stroke="#1f8f1f" stroke-width="1.1"/><text transform="translate(222.47,158.33) scale(1.0,1.0)" font-size="10.8" fill="#000" stroke="#000" stroke-width="0.3">1000</text><circle cx="198.2" cy="163.4" r="2.75" fill="none" stroke="#1f8f1f" stroke-width="1.1"/><text transform="translate(201.40,170.75) scale(1.0,1.0)" font-size="10.8" fill="#000" stroke="#000" stroke-width="0.3">1500</text><circle cx="180.5" cy="173.1" r="2.75" fill="none" stroke="#1f8f1f" stroke-width="1.1"/><text transform="translate(183.75,180.53) scale(1.0,1.0)" font-size="10.8" fill="#000" stroke="#000" stroke-width="0.3">2000</text><text transform="translate(17.95,230.70) scale(1.0,1.08)" font-size="11.7" font-weight="bold" text-anchor="middle" fill="#000" stroke="#000" stroke-width="0.3">-200</text><text transform="translate(63.66,230.70) scale(1.0,1.08)" font-size="11.7" font-weight="bold" text-anchor="middle" fill="#000" stroke="#000" stroke-width="0.3">-180</text><text transform="translate(109.37,230.70) scale(1.0,1.08)" font-size="11.7" font-weight="bold" text-anchor="middle" fill="#000" stroke="#000" stroke-width="0.3">-160</text><text transform="translate(155.08,230.70) scale(1.0,1.08)" font-size="11.7" font-weight="bold" text-anchor="middle" fill="#000" stroke="#000" stroke-width="0.3">-140</text><text transform="translate(200.78,230.70) scale(1.0,1.08)" font-size="11.7" font-weight="bold" text-anchor="middle" fill="#000" stroke="#000" stroke-width="0.3">-120</text><text transform="translate(246.49,230.70) scale(1.0,1.08)" font-size="11.7" font-weight="bold" text-anchor="middle" fill="#000" stroke="#000" stroke-width="0.3">-100</text><text transform="translate(292.20,230.70) scale(1.0,1.08)" font-size="11.7" font-weight="bold" text-anchor="middle" fill="#000" stroke="#000" stroke-width="0.3">-80</text><text transform="translate(296.80,218.30) scale(1.0,1.08)" font-size="11.7" font-weight="bold" fill="#000" stroke="#000" stroke-width="0.3">-20</text><text transform="translate(296.80,188.89) scale(1.0,1.08)" font-size="11.7" font-weight="bold" fill="#000" stroke="#000" stroke-width="0.3">-10</text><text transform="translate(296.80,159.49) scale(1.0,1.08)" font-size="11.7" font-weight="bold" fill="#000" stroke="#000" stroke-width="0.3">0</text><text transform="translate(296.80,130.08) scale(1.0,1.08)" font-size="11.7" font-weight="bold" fill="#000" stroke="#000" stroke-width="0.3">10</text><text transform="translate(296.80,100.67) scale(1.0,1.08)" font-size="11.7" font-weight="bold" fill="#000" stroke="#000" stroke-width="0.3">20</text><text transform="translate(296.80,71.26) scale(1.0,1.08)" font-size="11.7" font-weight="bold" fill="#000" stroke="#000" stroke-width="0.3">30</text><text transform="translate(296.80,41.86) scale(1.0,1.08)" font-size="11.7" font-weight="bold" fill="#000" stroke="#000" stroke-width="0.3">40</text><text transform="translate(296.80,12.45) scale(1.0,1.08)" font-size="11.7" font-weight="bold" fill="#000" stroke="#000" stroke-width="0.3">50</text><text transform="translate(155.90,242.70) scale(1.0,1.0)" font-size="12.15" font-weight="bold" font-style="italic" text-anchor="middle" fill="#000">Phase(deg)</text><text transform="translate(317.00,110.60) rotate(90) scale(1.0,0.95)" font-size="11.8" font-weight="bold" font-style="italic" text-anchor="middle" fill="#000">Mag(dB)</text><text transform="translate(241.70,55.90) scale(1.0,1.05)" font-size="11.9" font-weight="bold" fill="#000" stroke="#000" stroke-width="0.3">0 dB</text><text transform="translate(137.60,72.50) scale(1.0,1.05)" font-size="11.9" font-weight="bold" fill="#000" stroke="#000" stroke-width="0.3">0.25 dB</text><text transform="translate(105.00,87.30) scale(1.0,1.05)" font-size="11.9" font-weight="bold" fill="#000" stroke="#000" stroke-width="0.3">0.5 dB</text><text transform="translate(86.40,103.20) scale(1.0,1.05)" font-size="11.9" font-weight="bold" fill="#000" stroke="#000" stroke-width="0.3">1 dB</text><text transform="translate(73.00,128.10) scale(1.0,1.05)" font-size="11.9" font-weight="bold" fill="#000" stroke="#000" stroke-width="0.3">3 dB</text><text transform="translate(69.90,141.90) scale(1.0,1.05)" font-size="11.9" font-weight="bold" fill="#000" stroke="#000" stroke-width="0.3">6 dB</text><text transform="translate(234.00,23.40) scale(0.95,1)" font-family="'Liberation Serif',serif" font-style="italic" font-size="14" fill="#000" stroke="#000" stroke-width="0.35">ω</text><path d="M244.3 19.9H257.2M253.6 17.4L257.2 19.9L253.6 22.4" fill="none" stroke="#222" stroke-width="0.9" stroke-linecap="round" stroke-linejoin="round"/><text transform="translate(257.60,23.00) scale(1.0,0.91)" font-size="14.8" font-weight="bold" fill="#000">0</text><text transform="translate(86.80,206.70) scale(0.95,1)" font-family="'Liberation Serif',serif" font-style="italic" font-size="14" fill="#000" stroke="#000" stroke-width="0.35">ω</text><path d="M97.4 203.4H110.1M106.5 200.9L110.1 203.4L106.5 205.9" fill="none" stroke="#222" stroke-width="0.9" stroke-linecap="round" stroke-linejoin="round"/><path d="M119.1 203.4C121.1 199.5 125.3 199.5 125.3 203.4C125.3 207.3 121.1 207.3 119.1 203.4C117.1 199.5 112.89999999999999 199.5 112.89999999999999 203.4C112.89999999999999 207.3 117.1 207.3 119.1 203.4Z" fill="none" stroke="#111" stroke-width="1.15"/></svg>
</body></html>
